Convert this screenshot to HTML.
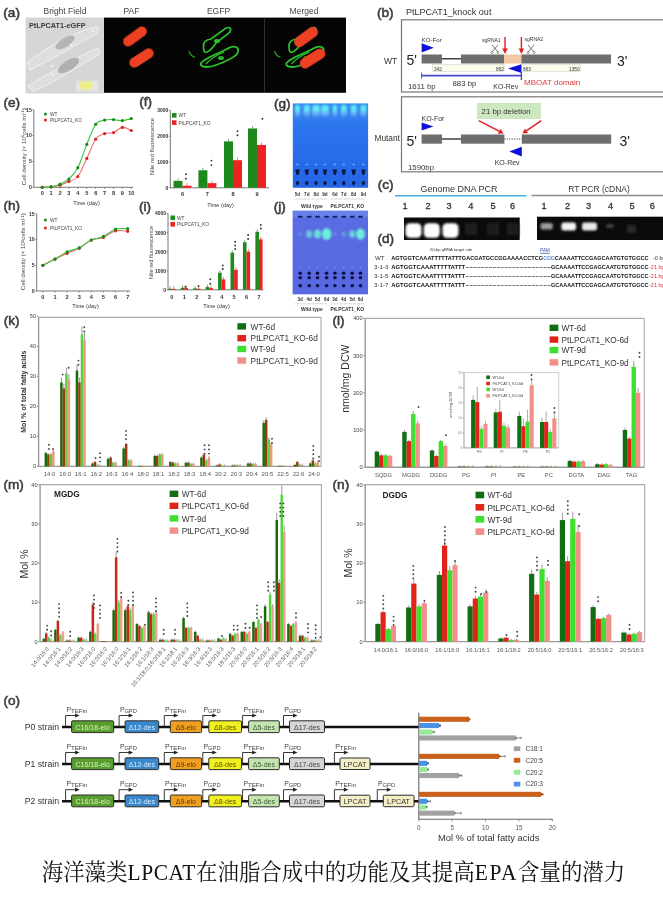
<!DOCTYPE html>
<html><head><meta charset="utf-8"><title>PtLPCAT1</title>
<style>
html,body{margin:0;padding:0;background:#fff;}
body{width:663px;height:900px;overflow:hidden;position:relative;}
svg{position:absolute;left:0;top:0;font-family:"Liberation Sans",Arial,sans-serif;}
.cap{position:absolute;left:2px;top:854.5px;transform:scaleY(1.04);transform-origin:50% 50%;width:663px;text-align:center;font-family:"Liberation Serif","Noto Serif CJK SC",serif;font-size:21.45px;color:#111;white-space:nowrap;}
</style></head><body>
<svg width="663" height="900" viewBox="0 0 663 900">
<defs><filter id="gl" x="-50%" y="-50%" width="200%" height="200%"><feGaussianBlur stdDeviation="1.2"/></filter><filter id="gl2" x="-50%" y="-50%" width="200%" height="200%"><feGaussianBlur stdDeviation="2"/></filter><filter id="gl3" x="-50%" y="-50%" width="200%" height="200%"><feGaussianBlur stdDeviation="0.6"/></filter><filter id="gl4" x="-50%" y="-50%" width="200%" height="200%"><feGaussianBlur stdDeviation="0.9"/></filter></defs>
<text x="3.3" y="17.2" font-size="13.6" fill="#3a3a3a" text-anchor="start" font-weight="normal" stroke="#3a3a3a" stroke-width="0.55">(a)</text>
<text x="65.0" y="14.0" font-size="8.5" fill="#444" text-anchor="middle" font-weight="normal" >Bright Field</text>
<text x="131.5" y="14.0" font-size="8.5" fill="#444" text-anchor="middle" font-weight="normal" >PAF</text>
<text x="218.5" y="14.0" font-size="8.5" fill="#444" text-anchor="middle" font-weight="normal" >EGFP</text>
<text x="304.0" y="14.0" font-size="8.5" fill="#444" text-anchor="middle" font-weight="normal" >Merged</text>
<rect x="25.50" y="17.50" width="78.50" height="76.00" fill="#d6d6d6" />
<g filter="url(#gl3)"><path d="M28,62 Q50,45 70,36 Q85,29 97,27 Q100,30 96,34 Q80,42 64,52 Q46,62 30,70 Z" fill="#dedede" stroke="#ececec" stroke-width="1.2"/><path d="M28,86 Q45,76 62,66 Q80,56 98,48 Q101,51 98,55 Q82,64 66,74 Q50,84 34,91 Z" fill="#dedede" stroke="#ececec" stroke-width="1.2"/><ellipse cx="65" cy="42.5" rx="11" ry="4.5" transform="rotate(-32 65 42.5)" fill="#b4b4b4"/><ellipse cx="68.5" cy="65.5" rx="12" ry="5" transform="rotate(-32 68.5 65.5)" fill="#b0b0b0"/><circle cx="71" cy="45" r="1.3" fill="#eee"/><circle cx="52" cy="66" r="1.5" fill="#eee"/><circle cx="53" cy="75" r="1.3" fill="#eee"/><circle cx="93" cy="31" r="1.2" fill="#eee"/></g>
<g filter="url(#gl4)"><rect x="76" y="81" width="22" height="10" fill="#e6e6f0"/><rect x="79" y="81.5" width="14" height="8" fill="#ecec86"/></g>
<text x="29" y="28.3" font-size="7.6" font-weight="bold" fill="#3a3a3a" textLength="56.5" lengthAdjust="spacingAndGlyphs">PtLPCAT1-eGFP</text>
<rect x="104.00" y="17.60" width="242.00" height="75.20" fill="#050505" />
<line x1="264.50" y1="17.60" x2="264.50" y2="92.80" stroke="#3a3a3a" stroke-width="0.8" />
<rect x="121.5" y="31.5" width="27" height="10" rx="5.0" fill="#ee4020" transform="rotate(-36 135 36.5)" filter="url(#gl3)"/>
<rect x="128.0" y="53.0" width="27" height="10" rx="5.0" fill="#ee4020" transform="rotate(-33 141.5 58)" filter="url(#gl3)"/>
<g transform="translate(0,0)" fill="none" stroke="#2cc02c" filter="url(#gl3)"><path d="M203.5,47 C203,41 207,39.5 211,39 L226,28 C230,26.5 232,29 229.5,32.5 L216,43 C213,47 210,52 206,52.5 C204,52.5 203.5,50 203.5,47 Z" stroke-width="1.7"/><path d="M201,63 C205,58 215,55 225,50 C231,46.5 236,45 238,49 C239,53 236,56 230,59 C222,63 213,67 207,67 C203,67 200,66 201,63 Z" stroke-width="1.8"/><path d="M206,64 C211,58 217,55 224,52" stroke-width="1.3"/><path d="M189,51 C190,55 193,57 195,57" stroke-width="1.2" stroke="#22a022"/><ellipse cx="217" cy="41" rx="3" ry="2" fill="#30c030" stroke="none"/><ellipse cx="221" cy="58" rx="3" ry="2" fill="#2cb02c" stroke="none"/></g>
<g transform="translate(85.5,0)" fill="none" stroke="#2cc02c" filter="url(#gl3)"><path d="M203.5,47 C203,41 207,39.5 211,39 L226,28 C230,26.5 232,29 229.5,32.5 L216,43 C213,47 210,52 206,52.5 C204,52.5 203.5,50 203.5,47 Z" stroke-width="1.7"/><path d="M201,63 C205,58 215,55 225,50 C231,46.5 236,45 238,49 C239,53 236,56 230,59 C222,63 213,67 207,67 C203,67 200,66 201,63 Z" stroke-width="1.8"/><path d="M206,64 C211,58 217,55 224,52" stroke-width="1.3"/><path d="M189,51 C190,55 193,57 195,57" stroke-width="1.2" stroke="#22a022"/><ellipse cx="217" cy="41" rx="3" ry="2" fill="#30c030" stroke="none"/><ellipse cx="221" cy="58" rx="3" ry="2" fill="#2cb02c" stroke="none"/></g>
<rect x="292.5" y="31.8" width="27" height="10.5" rx="5.25" fill="#ee4020" transform="rotate(-36 306 37)" filter="url(#gl3)"/>
<rect x="298.5" y="53.2" width="28" height="10.5" rx="5.25" fill="#ee4020" transform="rotate(-32 312.5 58.5)" filter="url(#gl3)"/>
<text x="377.0" y="17.0" font-size="13.6" fill="#3a3a3a" text-anchor="start" font-weight="normal" stroke="#3a3a3a" stroke-width="0.55">(b)</text>
<text x="406.0" y="15.2" font-size="9" fill="#333" text-anchor="start" font-weight="normal" >PtLPCAT1_knock out</text>
<rect x="401.5" y="19.8" width="270" height="72.2" fill="none" stroke="#777" stroke-width="1.2"/>
<text x="384.0" y="63.5" font-size="8.5" fill="#333" text-anchor="start" font-weight="normal" >WT</text>
<text x="406.5" y="65.0" font-size="14" fill="#222" text-anchor="start" font-weight="normal" >5'</text>
<text x="617.0" y="65.5" font-size="14" fill="#222" text-anchor="start" font-weight="normal" >3'</text>
<rect x="421.60" y="54.50" width="20.40" height="9.00" fill="#6e6e6e" />
<line x1="442.00" y1="58.80" x2="461.00" y2="58.80" stroke="#111" stroke-width="1.2" />
<rect x="461.00" y="54.50" width="43.00" height="9.00" fill="#6e6e6e" />
<rect x="504.00" y="54.50" width="17.40" height="9.00" fill="#f0c8a8" />
<rect x="521.40" y="54.50" width="89.60" height="9.00" fill="#6e6e6e" />
<rect x="432.5" y="64.5" width="71.5" height="7" fill="#fcfcec" stroke="#c8c8c8" stroke-width="0.5"/>
<rect x="521.4" y="64.8" width="58.6" height="7" fill="#fcfcec" stroke="#c8c8c8" stroke-width="0.5"/>
<text x="434.0" y="70.5" font-size="4.8" fill="#333" text-anchor="start" font-weight="normal" >342</text>
<text x="496.0" y="70.5" font-size="4.8" fill="#333" text-anchor="start" font-weight="normal" >862</text>
<text x="523.0" y="70.5" font-size="4.8" fill="#333" text-anchor="start" font-weight="normal" >863</text>
<text x="569.0" y="70.5" font-size="4.8" fill="#333" text-anchor="start" font-weight="normal" >1350</text>
<path d="M421.6,43.2 L433.8,47.8 L421.6,52.4 Z" fill="#1010d8"/>
<text x="421.5" y="41.5" font-size="6.2" fill="#333" text-anchor="start" font-weight="normal" >KO-For</text>
<path d="M521.4,64.3 L508,68.6 L521.4,73 Z" fill="#1010d8"/>
<text x="493.3" y="88.8" font-size="7" fill="#333" text-anchor="start" font-weight="normal" >KO-Rev</text>
<line x1="421.60" y1="75.60" x2="521.40" y2="75.60" stroke="#4848d0" stroke-width="1.8" />
<line x1="421.60" y1="72.50" x2="421.60" y2="78.50" stroke="#4848d0" stroke-width="1" />
<line x1="521.40" y1="72.00" x2="521.40" y2="80.00" stroke="#4848d0" stroke-width="1.4" />
<text x="408.0" y="89.0" font-size="7.8" fill="#333" text-anchor="start" font-weight="normal" >1611 bp</text>
<text x="452.5" y="85.8" font-size="7.8" fill="#333" text-anchor="start" font-weight="normal" >883 bp</text>
<text x="524.0" y="84.8" font-size="8" fill="#e03a3a" text-anchor="start" font-weight="normal" >MBOAT  domain</text>
<line x1="505.00" y1="37.00" x2="505.00" y2="50.00" stroke="#e02020" stroke-width="1.4" />
<path d="M502.2,48.5 L505,54 L507.8,48.5 Z" fill="#e02020"/>
<line x1="521.40" y1="37.00" x2="521.40" y2="50.00" stroke="#e02020" stroke-width="1.4" />
<path d="M518.6,48.5 L521.4,54 L524.1999999999999,48.5 Z" fill="#e02020"/>
<text x="482.0" y="42.0" font-size="5" fill="#333" text-anchor="start" font-weight="normal" >sgRNA1</text>
<text x="524.5" y="40.8" font-size="5" fill="#333" text-anchor="start" font-weight="normal" >sgRNA2</text>
<path d="M492,45 L498,52 M498,45 L492,52" stroke="#666" stroke-width="0.9" fill="none"/>
<circle cx="492" cy="52.5" r="1.1" fill="none" stroke="#666" stroke-width="0.6"/><circle cx="498" cy="52.5" r="1.1" fill="none" stroke="#666" stroke-width="0.6"/>
<path d="M528,45 L534,52 M534,45 L528,52" stroke="#666" stroke-width="0.9" fill="none"/>
<circle cx="528" cy="52.5" r="1.1" fill="none" stroke="#666" stroke-width="0.6"/><circle cx="534" cy="52.5" r="1.1" fill="none" stroke="#666" stroke-width="0.6"/>
<rect x="401.5" y="96.8" width="270" height="75" fill="none" stroke="#777" stroke-width="1.2"/>
<text x="374.5" y="140.5" font-size="8.3" fill="#333" text-anchor="start" font-weight="normal" >Mutant</text>
<text x="406.5" y="145.5" font-size="14" fill="#222" text-anchor="start" font-weight="normal" >5'</text>
<text x="619.5" y="145.5" font-size="14" fill="#222" text-anchor="start" font-weight="normal" >3'</text>
<rect x="421.60" y="134.50" width="20.40" height="9.20" fill="#6e6e6e" />
<line x1="442.00" y1="139.00" x2="461.00" y2="139.00" stroke="#111" stroke-width="1.2" />
<rect x="461.00" y="134.50" width="43.40" height="9.20" fill="#6e6e6e" />
<line x1="504.40" y1="139.00" x2="521.80" y2="139.00" stroke="#333" stroke-width="0.9" stroke-dasharray="1.2,1.2"/>
<rect x="521.80" y="134.50" width="89.40" height="9.20" fill="#6e6e6e" />
<path d="M421.6,122.6 L433.4,126.6 L421.6,130.6 Z" fill="#1010d8"/>
<text x="421.5" y="120.5" font-size="7" fill="#333" text-anchor="start" font-weight="normal" >KO-For</text>
<path d="M521.8,146.8 L509.3,151.6 L521.8,156.4 Z" fill="#1010d8"/>
<text x="494.7" y="165.0" font-size="7" fill="#333" text-anchor="start" font-weight="normal" >KO-Rev</text>
<text x="408.0" y="169.8" font-size="7.8" fill="#333" text-anchor="start" font-weight="normal" >1590bp</text>
<rect x="477.00" y="103.00" width="64.00" height="16.00" fill="#cde8c0" />
<text x="481.6" y="114.4" font-size="7.8" fill="#333" text-anchor="start" font-weight="normal" >21 bp deletion</text>
<line x1="478.70" y1="120.60" x2="499.06" y2="131.19" stroke="#e02020" stroke-width="1.5" />
<path d="M503.5,133.5 L497.8,133.7 L500.4,128.7 Z" fill="#e02020"/>
<line x1="541.30" y1="120.60" x2="526.53" y2="130.68" stroke="#e02020" stroke-width="1.5" />
<path d="M522.4,133.5 L525.0,128.4 L528.1,133.0 Z" fill="#e02020"/>
<text x="377.8" y="189.4" font-size="13.6" fill="#3a3a3a" text-anchor="start" font-weight="normal" stroke="#3a3a3a" stroke-width="0.55">(c)</text>
<text x="459.0" y="191.5" font-size="9" fill="#333" text-anchor="middle" font-weight="normal" >Genome DNA PCR</text>
<text x="599.0" y="192.0" font-size="8.5" fill="#333" text-anchor="middle" font-weight="normal" >RT PCR (cDNA)</text>
<line x1="395.00" y1="195.80" x2="526.50" y2="195.80" stroke="#40b4dc" stroke-width="1.6" />
<line x1="531.40" y1="195.50" x2="663.00" y2="195.50" stroke="#8a8a8a" stroke-width="1.4" />
<text x="405.0" y="208.9" font-size="9.2" fill="#333" text-anchor="middle" font-weight="normal" stroke="#333" stroke-width="0.3">1</text>
<text x="428.0" y="208.9" font-size="9.2" fill="#333" text-anchor="middle" font-weight="normal" stroke="#333" stroke-width="0.3">2</text>
<text x="449.0" y="208.9" font-size="9.2" fill="#333" text-anchor="middle" font-weight="normal" stroke="#333" stroke-width="0.3">3</text>
<text x="470.7" y="208.9" font-size="9.2" fill="#333" text-anchor="middle" font-weight="normal" stroke="#333" stroke-width="0.3">4</text>
<text x="493.0" y="208.9" font-size="9.2" fill="#333" text-anchor="middle" font-weight="normal" stroke="#333" stroke-width="0.3">5</text>
<text x="512.5" y="208.9" font-size="9.2" fill="#333" text-anchor="middle" font-weight="normal" stroke="#333" stroke-width="0.3">6</text>
<text x="544.0" y="209.3" font-size="9.2" fill="#333" text-anchor="middle" font-weight="normal" stroke="#333" stroke-width="0.3">1</text>
<text x="567.6" y="209.3" font-size="9.2" fill="#333" text-anchor="middle" font-weight="normal" stroke="#333" stroke-width="0.3">2</text>
<text x="588.5" y="209.3" font-size="9.2" fill="#333" text-anchor="middle" font-weight="normal" stroke="#333" stroke-width="0.3">3</text>
<text x="610.5" y="209.3" font-size="9.2" fill="#333" text-anchor="middle" font-weight="normal" stroke="#333" stroke-width="0.3">4</text>
<text x="632.0" y="209.3" font-size="9.2" fill="#333" text-anchor="middle" font-weight="normal" stroke="#333" stroke-width="0.3">5</text>
<text x="652.3" y="209.3" font-size="9.2" fill="#333" text-anchor="middle" font-weight="normal" stroke="#333" stroke-width="0.3">6</text>
<rect x="404.00" y="217.50" width="115.70" height="22.50" fill="#0b0b0b" />
<rect x="537.00" y="216.70" width="126.00" height="23.30" fill="#0b0b0b" />
<rect x="405.5" y="223.2" width="16" height="14.5" rx="4.5" fill="#ffffff" filter="url(#gl)"/>
<rect x="423.8" y="223.2" width="16" height="14.5" rx="4.5" fill="#ffffff" filter="url(#gl)"/>
<rect x="442.5" y="223.2" width="16" height="14.5" rx="4.5" fill="#ffffff" filter="url(#gl)"/>
<rect x="465" y="223" width="12" height="12" fill="#1c1c1c" filter="url(#gl)"/>
<rect x="487" y="223" width="12" height="12" fill="#1c1c1c" filter="url(#gl)"/>
<rect x="507" y="223" width="12" height="12" fill="#1c1c1c" filter="url(#gl)"/>
<rect x="540.5" y="223" width="12.3" height="6.5" rx="2" fill="#9a9a9a" filter="url(#gl)"/>
<rect x="561.4" y="222.5" width="14.6" height="8" rx="2.5" fill="#f4f4f4" filter="url(#gl)"/>
<rect x="582" y="222.5" width="15" height="8" rx="2.5" fill="#e8e8e8" filter="url(#gl)"/>
<rect x="606" y="224" width="8" height="4" rx="1.5" fill="#404040" filter="url(#gl)"/>
<rect x="627" y="225" width="9" height="8" rx="1.5" fill="#2a2a2a" filter="url(#gl)"/>
<text x="377.4" y="242.7" font-size="13.6" fill="#3a3a3a" text-anchor="start" font-weight="normal" stroke="#3a3a3a" stroke-width="0.55">(d)</text>
<text x="451.0" y="251.0" font-size="4.2" fill="#333" text-anchor="middle" font-weight="normal" >20-bp gRNA target site</text>
<text x="545.0" y="252.4" font-size="4.5" fill="#2a4aa0" text-anchor="middle" font-weight="normal" text-decoration="underline">PAM</text>
<line x1="540.00" y1="253.20" x2="550.00" y2="253.20" stroke="#2a4aa0" stroke-width="0.4" />
<text x="384.5" y="260.0" font-size="6.2" fill="#333" text-anchor="end" font-weight="normal" >WT</text>
<text x="388.5" y="268.6" font-size="6.2" fill="#333" text-anchor="end" font-weight="normal" >3-1-3</text>
<text x="388.5" y="278.1" font-size="6.2" fill="#333" text-anchor="end" font-weight="normal" >3-1-5</text>
<text x="388.5" y="287.4" font-size="6.2" fill="#333" text-anchor="end" font-weight="normal" >3-1-7</text>
<text x="391.20" y="260.00" font-size="6.2" font-weight="bold" fill="#111" textLength="151.98" lengthAdjust="spacingAndGlyphs">AGTGGTCAAATTTTTATTTGACGATGCCGGAAAACCTCG</text>
<text x="543.18" y="260.00" font-size="6.2" font-weight="bold" fill="#5a8ad8" textLength="11.69" lengthAdjust="spacingAndGlyphs">CGG</text>
<text x="554.87" y="260.00" font-size="6.2" font-weight="bold" fill="#111" textLength="93.53" lengthAdjust="spacingAndGlyphs">CAAAATTCCGAGCAATGTGTGGCC</text>
<text x="653.0" y="260.0" font-size="5.5" fill="#333" text-anchor="start" font-weight="normal" >-0 bp</text>
<text x="391.20" y="268.60" font-size="6.2" font-weight="bold" fill="#111" textLength="74.04" lengthAdjust="spacingAndGlyphs">AGTGGTCAAATTTTTATTT</text>
<text x="465.24" y="268.60" font-size="6.2" font-weight="bold" fill="#333" textLength="85.73" lengthAdjust="spacingAndGlyphs">----------------------</text>
<text x="550.98" y="268.60" font-size="6.2" font-weight="bold" fill="#111" textLength="97.42" lengthAdjust="spacingAndGlyphs">GCAAAATTCCGAGCAATGTGTGGCC</text>
<text x="649.0" y="268.6" font-size="5.5" fill="#e03030" text-anchor="start" font-weight="normal" >-21 bp</text>
<text x="391.20" y="278.10" font-size="6.2" font-weight="bold" fill="#111" textLength="74.04" lengthAdjust="spacingAndGlyphs">AGTGGTCAAATTTTTATTT</text>
<text x="465.24" y="278.10" font-size="6.2" font-weight="bold" fill="#333" textLength="85.73" lengthAdjust="spacingAndGlyphs">----------------------</text>
<text x="550.98" y="278.10" font-size="6.2" font-weight="bold" fill="#111" textLength="97.42" lengthAdjust="spacingAndGlyphs">GCAAAATTCCGAGCAATGTGTGGCC</text>
<text x="649.0" y="278.1" font-size="5.5" fill="#e03030" text-anchor="start" font-weight="normal" >-21 bp</text>
<text x="391.20" y="287.40" font-size="6.2" font-weight="bold" fill="#111" textLength="74.04" lengthAdjust="spacingAndGlyphs">AGTGGTCAAATTTTTATTT</text>
<text x="465.24" y="287.40" font-size="6.2" font-weight="bold" fill="#333" textLength="85.73" lengthAdjust="spacingAndGlyphs">----------------------</text>
<text x="550.98" y="287.40" font-size="6.2" font-weight="bold" fill="#111" textLength="97.42" lengthAdjust="spacingAndGlyphs">GCAAAATTCCGAGCAATGTGTGGCC</text>
<text x="649.0" y="287.4" font-size="5.5" fill="#e03030" text-anchor="start" font-weight="normal" >-21 bp</text>
<text x="3.4" y="106.6" font-size="13.6" fill="#3a3a3a" text-anchor="start" font-weight="normal" stroke="#3a3a3a" stroke-width="0.55">(e)</text>
<line x1="33.80" y1="109.80" x2="33.80" y2="187.30" stroke="#555" stroke-width="0.8" />
<line x1="33.80" y1="187.30" x2="133.00" y2="187.30" stroke="#555" stroke-width="0.8" />
<line x1="32.30" y1="187.30" x2="33.80" y2="187.30" stroke="#555" stroke-width="0.6" />
<text x="31.8" y="189.1" font-size="5.2" fill="#333" text-anchor="end" font-weight="bold" >0</text>
<line x1="32.30" y1="161.47" x2="33.80" y2="161.47" stroke="#555" stroke-width="0.6" />
<text x="31.8" y="163.3" font-size="5.2" fill="#333" text-anchor="end" font-weight="bold" >5</text>
<line x1="32.30" y1="135.63" x2="33.80" y2="135.63" stroke="#555" stroke-width="0.6" />
<text x="31.8" y="137.4" font-size="5.2" fill="#333" text-anchor="end" font-weight="bold" >10</text>
<line x1="32.30" y1="109.80" x2="33.80" y2="109.80" stroke="#555" stroke-width="0.6" />
<text x="31.8" y="111.6" font-size="5.2" fill="#333" text-anchor="end" font-weight="bold" >15</text>
<line x1="42.20" y1="187.30" x2="42.20" y2="188.80" stroke="#555" stroke-width="0.6" />
<text x="42.2" y="195.0" font-size="5.6" fill="#333" text-anchor="middle" font-weight="bold" >0</text>
<line x1="51.11" y1="187.30" x2="51.11" y2="188.80" stroke="#555" stroke-width="0.6" />
<text x="51.1" y="195.0" font-size="5.6" fill="#333" text-anchor="middle" font-weight="bold" >1</text>
<line x1="60.02" y1="187.30" x2="60.02" y2="188.80" stroke="#555" stroke-width="0.6" />
<text x="60.0" y="195.0" font-size="5.6" fill="#333" text-anchor="middle" font-weight="bold" >2</text>
<line x1="68.93" y1="187.30" x2="68.93" y2="188.80" stroke="#555" stroke-width="0.6" />
<text x="68.9" y="195.0" font-size="5.6" fill="#333" text-anchor="middle" font-weight="bold" >3</text>
<line x1="77.84" y1="187.30" x2="77.84" y2="188.80" stroke="#555" stroke-width="0.6" />
<text x="77.8" y="195.0" font-size="5.6" fill="#333" text-anchor="middle" font-weight="bold" >4</text>
<line x1="86.75" y1="187.30" x2="86.75" y2="188.80" stroke="#555" stroke-width="0.6" />
<text x="86.8" y="195.0" font-size="5.6" fill="#333" text-anchor="middle" font-weight="bold" >5</text>
<line x1="95.66" y1="187.30" x2="95.66" y2="188.80" stroke="#555" stroke-width="0.6" />
<text x="95.7" y="195.0" font-size="5.6" fill="#333" text-anchor="middle" font-weight="bold" >6</text>
<line x1="104.57" y1="187.30" x2="104.57" y2="188.80" stroke="#555" stroke-width="0.6" />
<text x="104.6" y="195.0" font-size="5.6" fill="#333" text-anchor="middle" font-weight="bold" >7</text>
<line x1="113.48" y1="187.30" x2="113.48" y2="188.80" stroke="#555" stroke-width="0.6" />
<text x="113.5" y="195.0" font-size="5.6" fill="#333" text-anchor="middle" font-weight="bold" >8</text>
<line x1="122.39" y1="187.30" x2="122.39" y2="188.80" stroke="#555" stroke-width="0.6" />
<text x="122.4" y="195.0" font-size="5.6" fill="#333" text-anchor="middle" font-weight="bold" >9</text>
<line x1="131.30" y1="187.30" x2="131.30" y2="188.80" stroke="#555" stroke-width="0.6" />
<text x="131.3" y="195.0" font-size="5.6" fill="#333" text-anchor="middle" font-weight="bold" >10</text>
<path d="M42.2,187.3 C43.7,187.2 48.1,187.1 51.1,186.8 C54.1,186.4 57.1,186.1 60.0,185.2 C63.0,184.4 66.0,183.1 68.9,181.6 C71.9,180.2 74.9,180.3 77.8,176.5 C80.8,172.6 83.8,164.6 86.8,158.4 C89.7,152.2 92.7,143.4 95.7,139.2 C98.6,135.1 101.6,134.7 104.6,133.6 C107.5,132.4 110.5,133.6 113.5,132.5 C116.5,131.5 119.4,127.7 122.4,127.4 C125.4,127.0 129.8,129.9 131.3,130.5" fill="none" stroke="#f07070" stroke-width="1.1"/>
<circle cx="42.2" cy="187.3" r="1.6" fill="#e02020"/>
<circle cx="51.1" cy="186.8" r="1.6" fill="#e02020"/>
<circle cx="60.0" cy="185.2" r="1.6" fill="#e02020"/>
<circle cx="68.9" cy="181.6" r="1.6" fill="#e02020"/>
<circle cx="77.8" cy="176.5" r="1.6" fill="#e02020"/>
<circle cx="86.8" cy="158.4" r="1.6" fill="#e02020"/>
<circle cx="95.7" cy="139.2" r="1.6" fill="#e02020"/>
<circle cx="104.6" cy="133.6" r="1.6" fill="#e02020"/>
<circle cx="113.5" cy="132.5" r="1.6" fill="#e02020"/>
<circle cx="122.4" cy="127.4" r="1.6" fill="#e02020"/>
<circle cx="131.3" cy="130.5" r="1.6" fill="#e02020"/>
<path d="M42.2,187.3 C43.7,187.2 48.1,187.3 51.1,186.8 C54.1,186.3 57.1,185.5 60.0,184.2 C63.0,182.9 66.0,181.8 68.9,179.0 C71.9,176.3 74.9,173.4 77.8,167.7 C80.8,161.9 83.8,151.6 86.8,144.4 C89.7,137.2 92.7,128.3 95.7,124.3 C98.6,120.2 101.6,120.9 104.6,120.1 C107.5,119.4 110.5,119.5 113.5,119.6 C116.5,119.7 119.4,120.8 122.4,120.6 C125.4,120.5 129.8,118.9 131.3,118.6" fill="none" stroke="#40c040" stroke-width="1.1"/>
<circle cx="42.2" cy="187.3" r="1.6" fill="#1a8a1a"/>
<circle cx="51.1" cy="186.8" r="1.6" fill="#1a8a1a"/>
<circle cx="60.0" cy="184.2" r="1.6" fill="#1a8a1a"/>
<circle cx="68.9" cy="179.0" r="1.6" fill="#1a8a1a"/>
<circle cx="77.8" cy="167.7" r="1.6" fill="#1a8a1a"/>
<circle cx="86.8" cy="144.4" r="1.6" fill="#1a8a1a"/>
<circle cx="95.7" cy="124.3" r="1.6" fill="#1a8a1a"/>
<circle cx="104.6" cy="120.1" r="1.6" fill="#1a8a1a"/>
<circle cx="113.5" cy="119.6" r="1.6" fill="#1a8a1a"/>
<circle cx="122.4" cy="120.6" r="1.6" fill="#1a8a1a"/>
<circle cx="131.3" cy="118.6" r="1.6" fill="#1a8a1a"/>
<text x="86.5" y="204.5" font-size="5.6" fill="#333" text-anchor="middle" font-weight="normal" >Time (day)</text>
<text transform="translate(25.8,146.7) rotate(-90)" font-size="6.2" fill="#444" text-anchor="middle">Cell density (× 10<tspan dy="-1.8" font-size="4.3">6</tspan><tspan dy="1.8">cells ml</tspan><tspan dy="-1.8" font-size="4.3">-1</tspan><tspan dy="1.8">)</tspan></text>
<circle cx="45.4" cy="114" r="1.5" fill="#1a8a1a"/><circle cx="45.4" cy="120" r="1.5" fill="#e02020"/>
<text x="50.0" y="115.8" font-size="4.8" fill="#444" text-anchor="start" font-weight="normal" >WT</text>
<text x="50.0" y="121.8" font-size="4.8" fill="#444" text-anchor="start" font-weight="normal" >PtLPCAT1_KO</text>
<text x="3.5" y="209.8" font-size="13.6" fill="#3a3a3a" text-anchor="start" font-weight="normal" stroke="#3a3a3a" stroke-width="0.55">(h)</text>
<line x1="36.70" y1="213.80" x2="36.70" y2="291.00" stroke="#555" stroke-width="0.8" />
<line x1="36.70" y1="291.00" x2="130.00" y2="291.00" stroke="#555" stroke-width="0.8" />
<line x1="35.20" y1="291.00" x2="36.70" y2="291.00" stroke="#555" stroke-width="0.6" />
<text x="34.7" y="292.8" font-size="5.2" fill="#333" text-anchor="end" font-weight="bold" >0</text>
<line x1="35.20" y1="265.27" x2="36.70" y2="265.27" stroke="#555" stroke-width="0.6" />
<text x="34.7" y="267.1" font-size="5.2" fill="#333" text-anchor="end" font-weight="bold" >5</text>
<line x1="35.20" y1="239.53" x2="36.70" y2="239.53" stroke="#555" stroke-width="0.6" />
<text x="34.7" y="241.3" font-size="5.2" fill="#333" text-anchor="end" font-weight="bold" >10</text>
<line x1="35.20" y1="213.80" x2="36.70" y2="213.80" stroke="#555" stroke-width="0.6" />
<text x="34.7" y="215.6" font-size="5.2" fill="#333" text-anchor="end" font-weight="bold" >15</text>
<line x1="42.90" y1="291.00" x2="42.90" y2="292.50" stroke="#555" stroke-width="0.6" />
<text x="42.9" y="298.5" font-size="5.6" fill="#333" text-anchor="middle" font-weight="bold" >0</text>
<line x1="55.01" y1="291.00" x2="55.01" y2="292.50" stroke="#555" stroke-width="0.6" />
<text x="55.0" y="298.5" font-size="5.6" fill="#333" text-anchor="middle" font-weight="bold" >1</text>
<line x1="67.12" y1="291.00" x2="67.12" y2="292.50" stroke="#555" stroke-width="0.6" />
<text x="67.1" y="298.5" font-size="5.6" fill="#333" text-anchor="middle" font-weight="bold" >2</text>
<line x1="79.23" y1="291.00" x2="79.23" y2="292.50" stroke="#555" stroke-width="0.6" />
<text x="79.2" y="298.5" font-size="5.6" fill="#333" text-anchor="middle" font-weight="bold" >3</text>
<line x1="91.34" y1="291.00" x2="91.34" y2="292.50" stroke="#555" stroke-width="0.6" />
<text x="91.3" y="298.5" font-size="5.6" fill="#333" text-anchor="middle" font-weight="bold" >4</text>
<line x1="103.45" y1="291.00" x2="103.45" y2="292.50" stroke="#555" stroke-width="0.6" />
<text x="103.4" y="298.5" font-size="5.6" fill="#333" text-anchor="middle" font-weight="bold" >5</text>
<line x1="115.56" y1="291.00" x2="115.56" y2="292.50" stroke="#555" stroke-width="0.6" />
<text x="115.6" y="298.5" font-size="5.6" fill="#333" text-anchor="middle" font-weight="bold" >6</text>
<line x1="127.67" y1="291.00" x2="127.67" y2="292.50" stroke="#555" stroke-width="0.6" />
<text x="127.7" y="298.5" font-size="5.6" fill="#333" text-anchor="middle" font-weight="bold" >7</text>
<path d="M42.9,265.3 C44.9,264.2 51.0,261.1 55.0,259.1 C59.0,257.1 63.1,255.2 67.1,253.4 C71.2,251.6 75.2,250.5 79.2,248.3 C83.3,246.1 87.3,241.8 91.3,240.0 C95.4,238.2 99.4,239.0 103.4,237.5 C107.5,235.9 111.5,231.8 115.6,230.8 C119.6,229.8 125.7,231.2 127.7,231.3" fill="none" stroke="#f07070" stroke-width="1.1"/>
<circle cx="42.9" cy="265.3" r="1.6" fill="#e02020"/>
<circle cx="55.0" cy="259.1" r="1.6" fill="#e02020"/>
<circle cx="67.1" cy="253.4" r="1.6" fill="#e02020"/>
<circle cx="79.2" cy="248.3" r="1.6" fill="#e02020"/>
<circle cx="91.3" cy="240.0" r="1.6" fill="#e02020"/>
<circle cx="103.4" cy="237.5" r="1.6" fill="#e02020"/>
<circle cx="115.6" cy="230.8" r="1.6" fill="#e02020"/>
<circle cx="127.7" cy="231.3" r="1.6" fill="#e02020"/>
<path d="M42.9,265.3 C44.9,264.2 51.0,261.3 55.0,259.1 C59.0,256.9 63.1,253.8 67.1,251.9 C71.2,250.0 75.2,249.7 79.2,247.8 C83.3,245.8 87.3,241.9 91.3,240.0 C95.4,238.2 99.4,238.2 103.4,236.4 C107.5,234.6 111.5,230.5 115.6,229.2 C119.6,228.0 125.7,228.8 127.7,228.7" fill="none" stroke="#40c040" stroke-width="1.1"/>
<circle cx="42.9" cy="265.3" r="1.6" fill="#1a8a1a"/>
<circle cx="55.0" cy="259.1" r="1.6" fill="#1a8a1a"/>
<circle cx="67.1" cy="251.9" r="1.6" fill="#1a8a1a"/>
<circle cx="79.2" cy="247.8" r="1.6" fill="#1a8a1a"/>
<circle cx="91.3" cy="240.0" r="1.6" fill="#1a8a1a"/>
<circle cx="103.4" cy="236.4" r="1.6" fill="#1a8a1a"/>
<circle cx="115.6" cy="229.2" r="1.6" fill="#1a8a1a"/>
<circle cx="127.7" cy="228.7" r="1.6" fill="#1a8a1a"/>
<text transform="translate(25.3,251.7) rotate(-90)" font-size="6.2" fill="#444" text-anchor="middle">Cell density (× 10<tspan dy="-1.8" font-size="4.3">6</tspan><tspan dy="1.8">cells ml</tspan><tspan dy="-1.8" font-size="4.3">-1</tspan><tspan dy="1.8">)</tspan></text>
<circle cx="45.4" cy="220" r="1.5" fill="#1a8a1a"/><circle cx="45.4" cy="228" r="1.5" fill="#e02020"/>
<text x="50.0" y="221.8" font-size="4.8" fill="#444" text-anchor="start" font-weight="normal" >WT</text>
<text x="50.0" y="229.8" font-size="4.8" fill="#444" text-anchor="start" font-weight="normal" >PtLPCAT1_KO</text>
<text x="85.5" y="308.3" font-size="5.6" fill="#333" text-anchor="middle" font-weight="normal" >Time (day)</text>
<text x="139.3" y="106.4" font-size="13.6" fill="#3a3a3a" text-anchor="start" font-weight="normal" stroke="#3a3a3a" stroke-width="0.55">(f)</text>
<line x1="170.30" y1="110.40" x2="170.30" y2="187.80" stroke="#555" stroke-width="0.8" />
<line x1="170.30" y1="187.80" x2="269.00" y2="187.80" stroke="#555" stroke-width="0.8" />
<line x1="168.80" y1="187.80" x2="170.30" y2="187.80" stroke="#555" stroke-width="0.6" />
<text x="168.3" y="189.6" font-size="5" fill="#333" text-anchor="end" font-weight="bold" >0</text>
<line x1="168.80" y1="162.00" x2="170.30" y2="162.00" stroke="#555" stroke-width="0.6" />
<text x="168.3" y="163.8" font-size="5" fill="#333" text-anchor="end" font-weight="bold" >1000</text>
<line x1="168.80" y1="136.20" x2="170.30" y2="136.20" stroke="#555" stroke-width="0.6" />
<text x="168.3" y="138.0" font-size="5" fill="#333" text-anchor="end" font-weight="bold" >2000</text>
<line x1="168.80" y1="110.40" x2="170.30" y2="110.40" stroke="#555" stroke-width="0.6" />
<text x="168.3" y="112.2" font-size="5" fill="#333" text-anchor="end" font-weight="bold" >3000</text>
<rect x="173.50" y="180.83" width="9.00" height="6.97" fill="#1e8a1e" />
<rect x="182.50" y="185.74" width="9.00" height="2.06" fill="#ee2222" />
<line x1="178.00" y1="180.83" x2="178.00" y2="178.33" stroke="#1e8a1e" stroke-width="0.6" />
<line x1="187.00" y1="185.74" x2="187.00" y2="183.24" stroke="#ee2222" stroke-width="0.6" />
<text x="182.5" y="195.5" font-size="5.6" fill="#333" text-anchor="middle" font-weight="bold" >6</text>
<rect x="198.40" y="170.26" width="9.00" height="17.54" fill="#1e8a1e" />
<rect x="207.40" y="183.16" width="9.00" height="4.64" fill="#ee2222" />
<line x1="202.90" y1="170.26" x2="202.90" y2="167.76" stroke="#1e8a1e" stroke-width="0.6" />
<line x1="211.90" y1="183.16" x2="211.90" y2="180.66" stroke="#ee2222" stroke-width="0.6" />
<text x="207.4" y="195.5" font-size="5.6" fill="#333" text-anchor="middle" font-weight="bold" >7</text>
<rect x="224.00" y="141.36" width="9.00" height="46.44" fill="#1e8a1e" />
<rect x="233.00" y="160.19" width="9.00" height="27.61" fill="#ee2222" />
<line x1="228.50" y1="141.36" x2="228.50" y2="138.86" stroke="#1e8a1e" stroke-width="0.6" />
<line x1="237.50" y1="160.19" x2="237.50" y2="157.69" stroke="#ee2222" stroke-width="0.6" />
<text x="233.0" y="195.5" font-size="5.6" fill="#333" text-anchor="middle" font-weight="bold" >8</text>
<rect x="248.00" y="128.46" width="9.00" height="59.34" fill="#1e8a1e" />
<rect x="257.00" y="144.97" width="9.00" height="42.83" fill="#ee2222" />
<line x1="252.50" y1="128.46" x2="252.50" y2="125.96" stroke="#1e8a1e" stroke-width="0.6" />
<line x1="261.50" y1="144.97" x2="261.50" y2="142.47" stroke="#ee2222" stroke-width="0.6" />
<text x="257.0" y="195.5" font-size="5.6" fill="#333" text-anchor="middle" font-weight="bold" >9</text>
<text x="220.5" y="206.5" font-size="5.6" fill="#333" text-anchor="middle" font-weight="normal" >Time (day)</text>
<text transform="translate(153.6,146.5) rotate(-90)" font-size="6.1" fill="#444" text-anchor="middle">Nile red fluorescence</text>
<rect x="172.00" y="113.00" width="4.50" height="4.60" fill="#1e8a1e" />
<rect x="172.00" y="120.30" width="4.50" height="4.60" fill="#ee2222" />
<text x="178.6" y="117.3" font-size="4.8" fill="#444" text-anchor="start" font-weight="normal" >WT</text>
<text x="178.6" y="124.6" font-size="4.8" fill="#444" text-anchor="start" font-weight="normal" >PtLPCAT1_KO</text>
<circle cx="186.0" cy="178.7" r="0.95" fill="#333"/>
<circle cx="186.0" cy="174.2" r="0.95" fill="#333"/>
<circle cx="211.4" cy="165.1" r="0.95" fill="#333"/>
<circle cx="211.4" cy="160.6" r="0.95" fill="#333"/>
<circle cx="237.5" cy="135.3" r="0.95" fill="#333"/>
<circle cx="237.5" cy="131.2" r="0.95" fill="#333"/>
<circle cx="262.4" cy="118.8" r="0.95" fill="#333"/>
<text x="139.0" y="210.7" font-size="13.6" fill="#3a3a3a" text-anchor="start" font-weight="normal" stroke="#3a3a3a" stroke-width="0.55">(i)</text>
<line x1="168.00" y1="213.60" x2="168.00" y2="289.80" stroke="#555" stroke-width="0.8" />
<line x1="168.00" y1="289.80" x2="263.50" y2="289.80" stroke="#555" stroke-width="0.8" />
<line x1="166.50" y1="289.80" x2="168.00" y2="289.80" stroke="#555" stroke-width="0.6" />
<text x="166.0" y="291.6" font-size="5" fill="#333" text-anchor="end" font-weight="bold" >0</text>
<line x1="166.50" y1="270.75" x2="168.00" y2="270.75" stroke="#555" stroke-width="0.6" />
<text x="166.0" y="272.6" font-size="5" fill="#333" text-anchor="end" font-weight="bold" >1000</text>
<line x1="166.50" y1="251.70" x2="168.00" y2="251.70" stroke="#555" stroke-width="0.6" />
<text x="166.0" y="253.5" font-size="5" fill="#333" text-anchor="end" font-weight="bold" >2000</text>
<line x1="166.50" y1="232.65" x2="168.00" y2="232.65" stroke="#555" stroke-width="0.6" />
<text x="166.0" y="234.5" font-size="5" fill="#333" text-anchor="end" font-weight="bold" >3000</text>
<line x1="166.50" y1="213.60" x2="168.00" y2="213.60" stroke="#555" stroke-width="0.6" />
<text x="166.0" y="215.4" font-size="5" fill="#333" text-anchor="end" font-weight="bold" >4000</text>
<rect x="168.30" y="288.66" width="3.60" height="1.14" fill="#1e8a1e" />
<rect x="171.90" y="288.85" width="3.60" height="0.95" fill="#ee2222" />
<line x1="170.10" y1="288.66" x2="170.10" y2="286.16" stroke="#1e8a1e" stroke-width="0.6" />
<line x1="173.70" y1="288.85" x2="173.70" y2="286.35" stroke="#ee2222" stroke-width="0.6" />
<text x="171.9" y="298.5" font-size="5.6" fill="#333" text-anchor="middle" font-weight="bold" >0</text>
<rect x="180.74" y="287.70" width="3.60" height="2.10" fill="#1e8a1e" />
<rect x="184.34" y="287.90" width="3.60" height="1.91" fill="#ee2222" />
<line x1="182.54" y1="287.70" x2="182.54" y2="285.20" stroke="#1e8a1e" stroke-width="0.6" />
<line x1="186.14" y1="287.90" x2="186.14" y2="285.40" stroke="#ee2222" stroke-width="0.6" />
<text x="184.3" y="298.5" font-size="5.6" fill="#333" text-anchor="middle" font-weight="bold" >1</text>
<rect x="193.18" y="288.28" width="3.60" height="1.52" fill="#1e8a1e" />
<rect x="196.78" y="288.66" width="3.60" height="1.14" fill="#ee2222" />
<line x1="194.98" y1="288.28" x2="194.98" y2="285.78" stroke="#1e8a1e" stroke-width="0.6" />
<line x1="198.58" y1="288.66" x2="198.58" y2="286.16" stroke="#ee2222" stroke-width="0.6" />
<text x="196.8" y="298.5" font-size="5.6" fill="#333" text-anchor="middle" font-weight="bold" >2</text>
<rect x="205.62" y="286.94" width="3.60" height="2.86" fill="#1e8a1e" />
<rect x="209.22" y="287.90" width="3.60" height="1.91" fill="#ee2222" />
<line x1="207.42" y1="286.94" x2="207.42" y2="284.44" stroke="#1e8a1e" stroke-width="0.6" />
<line x1="211.02" y1="287.90" x2="211.02" y2="285.40" stroke="#ee2222" stroke-width="0.6" />
<text x="209.2" y="298.5" font-size="5.6" fill="#333" text-anchor="middle" font-weight="bold" >3</text>
<rect x="218.06" y="272.66" width="3.60" height="17.15" fill="#1e8a1e" />
<rect x="221.66" y="279.32" width="3.60" height="10.48" fill="#ee2222" />
<line x1="219.86" y1="272.66" x2="219.86" y2="270.16" stroke="#1e8a1e" stroke-width="0.6" />
<line x1="223.46" y1="279.32" x2="223.46" y2="276.82" stroke="#ee2222" stroke-width="0.6" />
<text x="221.7" y="298.5" font-size="5.6" fill="#333" text-anchor="middle" font-weight="bold" >4</text>
<rect x="230.50" y="252.65" width="3.60" height="37.15" fill="#1e8a1e" />
<rect x="234.10" y="269.80" width="3.60" height="20.00" fill="#ee2222" />
<line x1="232.30" y1="252.65" x2="232.30" y2="250.15" stroke="#1e8a1e" stroke-width="0.6" />
<line x1="235.90" y1="269.80" x2="235.90" y2="267.30" stroke="#ee2222" stroke-width="0.6" />
<text x="234.1" y="298.5" font-size="5.6" fill="#333" text-anchor="middle" font-weight="bold" >5</text>
<rect x="242.94" y="242.18" width="3.60" height="47.63" fill="#1e8a1e" />
<rect x="246.54" y="251.70" width="3.60" height="38.10" fill="#ee2222" />
<line x1="244.74" y1="242.18" x2="244.74" y2="239.68" stroke="#1e8a1e" stroke-width="0.6" />
<line x1="248.34" y1="251.70" x2="248.34" y2="249.20" stroke="#ee2222" stroke-width="0.6" />
<text x="246.5" y="298.5" font-size="5.6" fill="#333" text-anchor="middle" font-weight="bold" >6</text>
<rect x="255.38" y="231.70" width="3.60" height="58.10" fill="#1e8a1e" />
<rect x="258.98" y="239.32" width="3.60" height="50.48" fill="#ee2222" />
<line x1="257.18" y1="231.70" x2="257.18" y2="229.20" stroke="#1e8a1e" stroke-width="0.6" />
<line x1="260.78" y1="239.32" x2="260.78" y2="236.82" stroke="#ee2222" stroke-width="0.6" />
<text x="259.0" y="298.5" font-size="5.6" fill="#333" text-anchor="middle" font-weight="bold" >7</text>
<text x="216.5" y="308.0" font-size="5.6" fill="#333" text-anchor="middle" font-weight="normal" >Time (day)</text>
<text transform="translate(152.5,252.5) rotate(-90)" font-size="5.7" fill="#444" text-anchor="middle">Nile red fluorescence</text>
<rect x="170.50" y="215.50" width="4.50" height="4.60" fill="#1e8a1e" />
<rect x="170.50" y="222.00" width="4.50" height="4.60" fill="#ee2222" />
<text x="177.0" y="219.6" font-size="4.8" fill="#444" text-anchor="start" font-weight="normal" >WT</text>
<text x="177.0" y="226.3" font-size="4.8" fill="#444" text-anchor="start" font-weight="normal" >PtLPCAT1_KO</text>
<circle cx="185.4" cy="286.7" r="0.95" fill="#333"/>
<circle cx="198.5" cy="286.0" r="0.95" fill="#333"/>
<circle cx="210.3" cy="283.7" r="0.95" fill="#333"/>
<circle cx="210.3" cy="279.2" r="0.95" fill="#333"/>
<circle cx="222.8" cy="269.0" r="0.95" fill="#333"/>
<circle cx="222.8" cy="265.4" r="0.95" fill="#333"/>
<circle cx="235.2" cy="249.0" r="0.95" fill="#333"/>
<circle cx="235.2" cy="245.4" r="0.95" fill="#333"/>
<circle cx="235.2" cy="241.8" r="0.95" fill="#333"/>
<circle cx="248.1" cy="239.0" r="0.95" fill="#333"/>
<circle cx="248.1" cy="235.0" r="0.95" fill="#333"/>
<circle cx="260.8" cy="228.5" r="0.95" fill="#333"/>
<circle cx="260.8" cy="224.9" r="0.95" fill="#333"/>
<text x="274.0" y="107.6" font-size="13.6" fill="#3a3a3a" text-anchor="start" font-weight="normal" stroke="#3a3a3a" stroke-width="0.55">(g)</text>
<defs><linearGradient id="gg" x1="0" y1="0" x2="0" y2="1"><stop offset="0" stop-color="#3a8cf2"/><stop offset="0.25" stop-color="#2c76ee"/><stop offset="1" stop-color="#2464e6"/></linearGradient><linearGradient id="lane" x1="0" y1="0" x2="0" y2="1"><stop offset="0" stop-color="#58eef2"/><stop offset="0.4" stop-color="#64e4f4"/><stop offset="0.7" stop-color="#8cc4fa" stop-opacity="0.6"/><stop offset="1" stop-color="#6aa8f6" stop-opacity="0"/></linearGradient><linearGradient id="gj" x1="0" y1="0" x2="0" y2="1"><stop offset="0" stop-color="#6a80ea"/><stop offset="0.06" stop-color="#6a80ea"/><stop offset="0.1" stop-color="#5a6ce2"/><stop offset="1" stop-color="#5868e0"/></linearGradient></defs>
<rect x="292.80" y="103.40" width="75.30" height="84.40" fill="url(#gg)" />
<rect x="295.0" y="104.8" width="5" height="13.5" rx="2.5" fill="url(#lane)" filter="url(#gl4)"/>
<ellipse cx="297.5" cy="164.5" rx="1.5" ry="1" fill="#5aa0f4" filter="url(#gl3)"/>
<path d="M295.3,169.5 L299.7,169.5 L299.0,173 L298.3,175 L296.7,175 L296.0,173 Z" fill="#0a1440" filter="url(#gl3)"/>
<ellipse cx="297.5" cy="183.2" rx="1.6" ry="2.1" fill="#0a1440" filter="url(#gl3)"/>
<rect x="303.8" y="104.8" width="6" height="13.5" rx="3.0" fill="url(#lane)" filter="url(#gl4)"/>
<ellipse cx="306.8" cy="164.5" rx="1.5" ry="1" fill="#5aa0f4" filter="url(#gl3)"/>
<path d="M304.6,169.5 L309.0,169.5 L308.3,173 L307.6,175 L306.0,175 L305.3,173 Z" fill="#0a1440" filter="url(#gl3)"/>
<ellipse cx="306.8" cy="183.2" rx="1.6" ry="2.1" fill="#0a1440" filter="url(#gl3)"/>
<rect x="312.1" y="104.8" width="8" height="13.5" rx="4.0" fill="url(#lane)" filter="url(#gl4)"/>
<ellipse cx="316.1" cy="164.5" rx="1.5" ry="1" fill="#5aa0f4" filter="url(#gl3)"/>
<path d="M313.90000000000003,169.5 L318.3,169.5 L317.6,173 L316.90000000000003,175 L315.3,175 L314.6,173 Z" fill="#0a1440" filter="url(#gl3)"/>
<ellipse cx="316.1" cy="183.2" rx="1.6" ry="2.1" fill="#0a1440" filter="url(#gl3)"/>
<rect x="321.0" y="104.8" width="8" height="13.5" rx="4.0" fill="url(#lane)" filter="url(#gl4)"/>
<ellipse cx="325" cy="164.5" rx="1.5" ry="1" fill="#5aa0f4" filter="url(#gl3)"/>
<path d="M322.8,169.5 L327.2,169.5 L326.5,173 L325.8,175 L324.2,175 L323.5,173 Z" fill="#0a1440" filter="url(#gl3)"/>
<ellipse cx="325" cy="183.2" rx="1.6" ry="2.1" fill="#0a1440" filter="url(#gl3)"/>
<rect x="332.6" y="104.8" width="4.5" height="13.5" rx="2.2" fill="url(#lane)" filter="url(#gl4)"/>
<ellipse cx="334.9" cy="164.5" rx="1.5" ry="1" fill="#5aa0f4" filter="url(#gl3)"/>
<path d="M332.7,169.5 L337.09999999999997,169.5 L336.4,173 L335.7,175 L334.09999999999997,175 L333.4,173 Z" fill="#0a1440" filter="url(#gl3)"/>
<ellipse cx="334.9" cy="183.2" rx="1.6" ry="2.1" fill="#0a1440" filter="url(#gl3)"/>
<rect x="340.8" y="104.8" width="6" height="13.5" rx="3.0" fill="url(#lane)" filter="url(#gl4)"/>
<ellipse cx="343.8" cy="164.5" rx="1.5" ry="1" fill="#5aa0f4" filter="url(#gl3)"/>
<path d="M341.6,169.5 L346.0,169.5 L345.3,173 L344.6,175 L343.0,175 L342.3,173 Z" fill="#0a1440" filter="url(#gl3)"/>
<ellipse cx="343.8" cy="183.2" rx="1.6" ry="2.1" fill="#0a1440" filter="url(#gl3)"/>
<rect x="350.7" y="104.8" width="6" height="13.5" rx="3.0" fill="url(#lane)" filter="url(#gl4)"/>
<ellipse cx="353.7" cy="164.5" rx="1.5" ry="1" fill="#5aa0f4" filter="url(#gl3)"/>
<path d="M351.5,169.5 L355.9,169.5 L355.2,173 L354.5,175 L352.9,175 L352.2,173 Z" fill="#0a1440" filter="url(#gl3)"/>
<ellipse cx="353.7" cy="183.2" rx="1.6" ry="2.1" fill="#0a1440" filter="url(#gl3)"/>
<rect x="360.4" y="104.8" width="6" height="13.5" rx="3.0" fill="url(#lane)" filter="url(#gl4)"/>
<ellipse cx="363.4" cy="164.5" rx="1.5" ry="1" fill="#5aa0f4" filter="url(#gl3)"/>
<path d="M361.2,169.5 L365.59999999999997,169.5 L364.9,173 L364.2,175 L362.59999999999997,175 L361.9,173 Z" fill="#0a1440" filter="url(#gl3)"/>
<ellipse cx="363.4" cy="183.2" rx="1.6" ry="2.1" fill="#0a1440" filter="url(#gl3)"/>
<text x="297.5" y="196.3" font-size="4.6" fill="#333" text-anchor="middle" font-weight="bold" >5d</text>
<text x="306.8" y="196.3" font-size="4.6" fill="#333" text-anchor="middle" font-weight="bold" >7d</text>
<text x="316.1" y="196.3" font-size="4.6" fill="#333" text-anchor="middle" font-weight="bold" >8d</text>
<text x="325.0" y="196.3" font-size="4.6" fill="#333" text-anchor="middle" font-weight="bold" >9d</text>
<text x="334.9" y="196.3" font-size="4.6" fill="#333" text-anchor="middle" font-weight="bold" >6d</text>
<text x="343.8" y="196.3" font-size="4.6" fill="#333" text-anchor="middle" font-weight="bold" >7d</text>
<text x="353.7" y="196.3" font-size="4.6" fill="#333" text-anchor="middle" font-weight="bold" >8d</text>
<text x="363.4" y="196.3" font-size="4.6" fill="#333" text-anchor="middle" font-weight="bold" >9d</text>
<line x1="295.00" y1="199.00" x2="327.00" y2="199.00" stroke="#888" stroke-width="0.5" stroke-dasharray="0.8,0.5"/>
<line x1="331.00" y1="199.00" x2="365.00" y2="199.00" stroke="#888" stroke-width="0.5" stroke-dasharray="0.8,0.5"/>
<text x="311.8" y="207.8" font-size="4.9" fill="#333" text-anchor="middle" font-weight="bold" >Wild type</text>
<text x="347.2" y="207.8" font-size="4.9" fill="#333" text-anchor="middle" font-weight="bold" >PtLPCAT1_KO</text>
<text x="273.8" y="210.7" font-size="13.6" fill="#3a3a3a" text-anchor="start" font-weight="normal" stroke="#3a3a3a" stroke-width="0.55">(j)</text>
<rect x="292.60" y="210.60" width="75.40" height="83.70" fill="url(#gj)" />
<rect x="297.9" y="215.8" width="4.6" height="1.9" fill="#142060" filter="url(#gl3)"/>
<ellipse cx="300.2" cy="234" rx="1.5" ry="1.875" fill="#6af0d8" opacity="0.4" filter="url(#gl)"/>
<ellipse cx="300.2" cy="267.5" rx="0.9" ry="0.7" fill="#7a8af0"/>
<ellipse cx="300.2" cy="273.2" rx="1.8" ry="1.6" fill="#0a1040" filter="url(#gl3)"/>
<ellipse cx="300.2" cy="277.7" rx="1.8" ry="1.6" fill="#0a1040" filter="url(#gl3)"/>
<ellipse cx="300.2" cy="285.7" rx="1.8" ry="1.6" fill="#0a1040" filter="url(#gl3)"/>
<rect x="306.9" y="215.8" width="4.6" height="1.9" fill="#142060" filter="url(#gl3)"/>
<ellipse cx="309.2" cy="234" rx="3" ry="3.75" fill="#6af0d8" opacity="0.75" filter="url(#gl)"/>
<ellipse cx="309.2" cy="267.5" rx="0.9" ry="0.7" fill="#7a8af0"/>
<ellipse cx="309.2" cy="273.2" rx="1.8" ry="1.6" fill="#0a1040" filter="url(#gl3)"/>
<ellipse cx="309.2" cy="277.7" rx="1.8" ry="1.6" fill="#0a1040" filter="url(#gl3)"/>
<ellipse cx="309.2" cy="285.7" rx="1.8" ry="1.6" fill="#0a1040" filter="url(#gl3)"/>
<rect x="315.2" y="215.8" width="4.6" height="1.9" fill="#142060" filter="url(#gl3)"/>
<ellipse cx="317.5" cy="234" rx="3.8" ry="4.75" fill="#6af0d8" opacity="0.85" filter="url(#gl)"/>
<ellipse cx="317.5" cy="267.5" rx="0.9" ry="0.7" fill="#7a8af0"/>
<ellipse cx="317.5" cy="273.2" rx="1.8" ry="1.6" fill="#0a1040" filter="url(#gl3)"/>
<ellipse cx="317.5" cy="277.7" rx="1.8" ry="1.6" fill="#0a1040" filter="url(#gl3)"/>
<ellipse cx="317.5" cy="285.7" rx="1.8" ry="1.6" fill="#0a1040" filter="url(#gl3)"/>
<rect x="324.3" y="215.8" width="4.6" height="1.9" fill="#142060" filter="url(#gl3)"/>
<ellipse cx="326.6" cy="234" rx="4.8" ry="6.0" fill="#6af0d8" opacity="1" filter="url(#gl)"/>
<ellipse cx="326.6" cy="267.5" rx="0.9" ry="0.7" fill="#7a8af0"/>
<ellipse cx="326.6" cy="273.2" rx="1.8" ry="1.6" fill="#0a1040" filter="url(#gl3)"/>
<ellipse cx="326.6" cy="277.7" rx="1.8" ry="1.6" fill="#0a1040" filter="url(#gl3)"/>
<ellipse cx="326.6" cy="285.7" rx="1.8" ry="1.6" fill="#0a1040" filter="url(#gl3)"/>
<rect x="332.59999999999997" y="215.8" width="4.6" height="1.9" fill="#142060" filter="url(#gl3)"/>
<ellipse cx="334.9" cy="234" rx="1.5" ry="1.875" fill="#6af0d8" opacity="0.35" filter="url(#gl)"/>
<ellipse cx="334.9" cy="267.5" rx="0.9" ry="0.7" fill="#7a8af0"/>
<ellipse cx="334.9" cy="273.2" rx="1.8" ry="1.6" fill="#0a1040" filter="url(#gl3)"/>
<ellipse cx="334.9" cy="277.7" rx="1.8" ry="1.6" fill="#0a1040" filter="url(#gl3)"/>
<ellipse cx="334.9" cy="285.7" rx="1.8" ry="1.6" fill="#0a1040" filter="url(#gl3)"/>
<rect x="341.3" y="215.8" width="4.6" height="1.9" fill="#142060" filter="url(#gl3)"/>
<ellipse cx="343.6" cy="234" rx="2" ry="2.5" fill="#6af0d8" opacity="0.45" filter="url(#gl)"/>
<ellipse cx="343.6" cy="267.5" rx="0.9" ry="0.7" fill="#7a8af0"/>
<ellipse cx="343.6" cy="273.2" rx="1.8" ry="1.6" fill="#0a1040" filter="url(#gl3)"/>
<ellipse cx="343.6" cy="277.7" rx="1.8" ry="1.6" fill="#0a1040" filter="url(#gl3)"/>
<ellipse cx="343.6" cy="285.7" rx="1.8" ry="1.6" fill="#0a1040" filter="url(#gl3)"/>
<rect x="349.9" y="215.8" width="4.6" height="1.9" fill="#142060" filter="url(#gl3)"/>
<ellipse cx="352.2" cy="234" rx="3" ry="3.75" fill="#6af0d8" opacity="0.8" filter="url(#gl)"/>
<ellipse cx="352.2" cy="267.5" rx="0.9" ry="0.7" fill="#7a8af0"/>
<ellipse cx="352.2" cy="273.2" rx="1.8" ry="1.6" fill="#0a1040" filter="url(#gl3)"/>
<ellipse cx="352.2" cy="277.7" rx="1.8" ry="1.6" fill="#0a1040" filter="url(#gl3)"/>
<ellipse cx="352.2" cy="285.7" rx="1.8" ry="1.6" fill="#0a1040" filter="url(#gl3)"/>
<rect x="358.2" y="215.8" width="4.6" height="1.9" fill="#142060" filter="url(#gl3)"/>
<ellipse cx="360.5" cy="234" rx="4.5" ry="5.625" fill="#6af0d8" opacity="1" filter="url(#gl)"/>
<ellipse cx="360.5" cy="267.5" rx="0.9" ry="0.7" fill="#7a8af0"/>
<ellipse cx="360.5" cy="273.2" rx="1.8" ry="1.6" fill="#0a1040" filter="url(#gl3)"/>
<ellipse cx="360.5" cy="277.7" rx="1.8" ry="1.6" fill="#0a1040" filter="url(#gl3)"/>
<ellipse cx="360.5" cy="285.7" rx="1.8" ry="1.6" fill="#0a1040" filter="url(#gl3)"/>
<text x="300.2" y="300.6" font-size="4.6" fill="#333" text-anchor="middle" font-weight="bold" >3d</text>
<text x="309.2" y="300.6" font-size="4.6" fill="#333" text-anchor="middle" font-weight="bold" >4d</text>
<text x="317.5" y="300.6" font-size="4.6" fill="#333" text-anchor="middle" font-weight="bold" >5d</text>
<text x="326.6" y="300.6" font-size="4.6" fill="#333" text-anchor="middle" font-weight="bold" >6d</text>
<text x="334.9" y="300.6" font-size="4.6" fill="#333" text-anchor="middle" font-weight="bold" >3d</text>
<text x="343.6" y="300.6" font-size="4.6" fill="#333" text-anchor="middle" font-weight="bold" >4d</text>
<text x="352.2" y="300.6" font-size="4.6" fill="#333" text-anchor="middle" font-weight="bold" >5d</text>
<text x="360.5" y="300.6" font-size="4.6" fill="#333" text-anchor="middle" font-weight="bold" >6d</text>
<line x1="295.00" y1="303.80" x2="327.00" y2="303.80" stroke="#888" stroke-width="0.5" stroke-dasharray="0.8,0.5"/>
<line x1="331.00" y1="303.80" x2="365.00" y2="303.80" stroke="#888" stroke-width="0.5" stroke-dasharray="0.8,0.5"/>
<text x="311.8" y="310.6" font-size="4.9" fill="#333" text-anchor="middle" font-weight="bold" >Wild type</text>
<text x="347.2" y="310.6" font-size="4.9" fill="#333" text-anchor="middle" font-weight="bold" >PtLPCAT1_KO</text>
<text x="3.8" y="325.3" font-size="13.6" fill="#3a3a3a" text-anchor="start" font-weight="normal" stroke="#3a3a3a" stroke-width="0.55">(k)</text>
<line x1="38.60" y1="317.40" x2="321.00" y2="317.40" stroke="#aaa" stroke-width="1.1" />
<line x1="321.00" y1="317.40" x2="321.00" y2="466.40" stroke="#aaa" stroke-width="1.1" />
<line x1="38.60" y1="317.40" x2="38.60" y2="466.40" stroke="#9a9a9a" stroke-width="1.4" />
<line x1="38.60" y1="466.40" x2="321.00" y2="466.40" stroke="#9a9a9a" stroke-width="1.4" />
<line x1="36.60" y1="466.40" x2="38.60" y2="466.40" stroke="#777" stroke-width="0.7" />
<text x="36.1" y="468.4" font-size="5.7" fill="#444" text-anchor="end" font-weight="normal" >0</text>
<line x1="36.60" y1="436.40" x2="38.60" y2="436.40" stroke="#777" stroke-width="0.7" />
<text x="36.1" y="438.4" font-size="5.7" fill="#444" text-anchor="end" font-weight="normal" >10</text>
<line x1="36.60" y1="406.40" x2="38.60" y2="406.40" stroke="#777" stroke-width="0.7" />
<text x="36.1" y="408.4" font-size="5.7" fill="#444" text-anchor="end" font-weight="normal" >20</text>
<line x1="36.60" y1="376.40" x2="38.60" y2="376.40" stroke="#777" stroke-width="0.7" />
<text x="36.1" y="378.4" font-size="5.7" fill="#444" text-anchor="end" font-weight="normal" >30</text>
<line x1="36.60" y1="346.40" x2="38.60" y2="346.40" stroke="#777" stroke-width="0.7" />
<text x="36.1" y="348.4" font-size="5.7" fill="#444" text-anchor="end" font-weight="normal" >40</text>
<line x1="36.60" y1="316.40" x2="38.60" y2="316.40" stroke="#777" stroke-width="0.7" />
<text x="36.1" y="318.4" font-size="5.7" fill="#444" text-anchor="end" font-weight="normal" >50</text>
<text transform="translate(26,391.7) rotate(-90)" font-size="7" fill="#333" text-anchor="middle" font-weight="bold">Mol % of total fatty acids</text>
<rect x="44.60" y="452.90" width="2.50" height="13.50" fill="#1a6a10" />
<line x1="45.85" y1="452.90" x2="45.85" y2="451.70" stroke="#333" stroke-width="0.5" />
<rect x="47.10" y="454.40" width="2.50" height="12.00" fill="#9a3a0c" />
<line x1="48.35" y1="454.40" x2="48.35" y2="453.20" stroke="#333" stroke-width="0.5" />
<rect x="49.60" y="454.40" width="2.50" height="12.00" fill="#58d038" />
<line x1="50.85" y1="454.40" x2="50.85" y2="453.20" stroke="#333" stroke-width="0.5" />
<rect x="52.10" y="451.40" width="2.50" height="15.00" fill="#e89a80" />
<line x1="53.35" y1="451.40" x2="53.35" y2="450.20" stroke="#333" stroke-width="0.5" />
<rect x="60.16" y="382.40" width="2.50" height="84.00" fill="#1a6a10" />
<line x1="61.41" y1="382.40" x2="61.41" y2="377.36" stroke="#333" stroke-width="0.5" />
<rect x="62.66" y="388.40" width="2.50" height="78.00" fill="#9a3a0c" />
<line x1="63.91" y1="388.40" x2="63.91" y2="383.72" stroke="#333" stroke-width="0.5" />
<rect x="65.16" y="373.40" width="2.50" height="93.00" fill="#58d038" />
<line x1="66.41" y1="373.40" x2="66.41" y2="367.82" stroke="#333" stroke-width="0.5" />
<rect x="67.66" y="379.40" width="2.50" height="87.00" fill="#e89a80" />
<line x1="68.91" y1="379.40" x2="68.91" y2="374.18" stroke="#333" stroke-width="0.5" />
<rect x="75.72" y="370.40" width="2.50" height="96.00" fill="#1a6a10" />
<line x1="76.97" y1="370.40" x2="76.97" y2="364.64" stroke="#333" stroke-width="0.5" />
<rect x="78.22" y="382.40" width="2.50" height="84.00" fill="#9a3a0c" />
<line x1="79.47" y1="382.40" x2="79.47" y2="377.36" stroke="#333" stroke-width="0.5" />
<rect x="80.72" y="334.40" width="2.50" height="132.00" fill="#58d038" />
<line x1="81.97" y1="334.40" x2="81.97" y2="326.48" stroke="#333" stroke-width="0.5" />
<rect x="83.22" y="340.40" width="2.50" height="126.00" fill="#e89a80" />
<line x1="84.47" y1="340.40" x2="84.47" y2="332.84" stroke="#333" stroke-width="0.5" />
<rect x="91.28" y="463.40" width="2.50" height="3.00" fill="#1a6a10" />
<line x1="92.53" y1="463.40" x2="92.53" y2="462.20" stroke="#333" stroke-width="0.5" />
<rect x="93.78" y="461.90" width="2.50" height="4.50" fill="#9a3a0c" />
<line x1="95.03" y1="461.90" x2="95.03" y2="460.70" stroke="#333" stroke-width="0.5" />
<rect x="96.28" y="465.50" width="2.50" height="0.90" fill="#58d038" />
<line x1="97.53" y1="465.50" x2="97.53" y2="464.30" stroke="#333" stroke-width="0.5" />
<rect x="98.78" y="465.50" width="2.50" height="0.90" fill="#e89a80" />
<line x1="100.03" y1="465.50" x2="100.03" y2="464.30" stroke="#333" stroke-width="0.5" />
<rect x="106.84" y="458.90" width="2.50" height="7.50" fill="#1a6a10" />
<line x1="108.09" y1="458.90" x2="108.09" y2="457.70" stroke="#333" stroke-width="0.5" />
<rect x="109.34" y="457.40" width="2.50" height="9.00" fill="#9a3a0c" />
<line x1="110.59" y1="457.40" x2="110.59" y2="456.20" stroke="#333" stroke-width="0.5" />
<rect x="111.84" y="462.80" width="2.50" height="3.60" fill="#58d038" />
<line x1="113.09" y1="462.80" x2="113.09" y2="461.60" stroke="#333" stroke-width="0.5" />
<rect x="114.34" y="462.80" width="2.50" height="3.60" fill="#e89a80" />
<line x1="115.59" y1="462.80" x2="115.59" y2="461.60" stroke="#333" stroke-width="0.5" />
<rect x="122.40" y="448.40" width="2.50" height="18.00" fill="#1a6a10" />
<line x1="123.65" y1="448.40" x2="123.65" y2="447.20" stroke="#333" stroke-width="0.5" />
<rect x="124.90" y="443.90" width="2.50" height="22.50" fill="#9a3a0c" />
<line x1="126.15" y1="443.90" x2="126.15" y2="442.55" stroke="#333" stroke-width="0.5" />
<rect x="127.40" y="460.40" width="2.50" height="6.00" fill="#58d038" />
<line x1="128.65" y1="460.40" x2="128.65" y2="459.20" stroke="#333" stroke-width="0.5" />
<rect x="129.90" y="460.40" width="2.50" height="6.00" fill="#e89a80" />
<line x1="131.15" y1="460.40" x2="131.15" y2="459.20" stroke="#333" stroke-width="0.5" />
<rect x="137.96" y="465.80" width="2.50" height="0.60" fill="#1a6a10" />
<rect x="140.46" y="465.80" width="2.50" height="0.60" fill="#9a3a0c" />
<rect x="142.96" y="465.80" width="2.50" height="0.60" fill="#58d038" />
<rect x="145.46" y="465.80" width="2.50" height="0.60" fill="#e89a80" />
<rect x="153.52" y="455.90" width="2.50" height="10.50" fill="#1a6a10" />
<line x1="154.77" y1="455.90" x2="154.77" y2="454.70" stroke="#333" stroke-width="0.5" />
<rect x="156.02" y="455.90" width="2.50" height="10.50" fill="#9a3a0c" />
<line x1="157.27" y1="455.90" x2="157.27" y2="454.70" stroke="#333" stroke-width="0.5" />
<rect x="158.52" y="454.40" width="2.50" height="12.00" fill="#58d038" />
<line x1="159.77" y1="454.40" x2="159.77" y2="453.20" stroke="#333" stroke-width="0.5" />
<rect x="161.02" y="454.40" width="2.50" height="12.00" fill="#e89a80" />
<line x1="162.27" y1="454.40" x2="162.27" y2="453.20" stroke="#333" stroke-width="0.5" />
<rect x="169.08" y="461.90" width="2.50" height="4.50" fill="#1a6a10" />
<line x1="170.33" y1="461.90" x2="170.33" y2="460.70" stroke="#333" stroke-width="0.5" />
<rect x="171.58" y="462.50" width="2.50" height="3.90" fill="#9a3a0c" />
<line x1="172.83" y1="462.50" x2="172.83" y2="461.30" stroke="#333" stroke-width="0.5" />
<rect x="174.08" y="463.40" width="2.50" height="3.00" fill="#58d038" />
<line x1="175.33" y1="463.40" x2="175.33" y2="462.20" stroke="#333" stroke-width="0.5" />
<rect x="176.58" y="463.40" width="2.50" height="3.00" fill="#e89a80" />
<line x1="177.83" y1="463.40" x2="177.83" y2="462.20" stroke="#333" stroke-width="0.5" />
<rect x="184.64" y="462.80" width="2.50" height="3.60" fill="#1a6a10" />
<line x1="185.89" y1="462.80" x2="185.89" y2="461.60" stroke="#333" stroke-width="0.5" />
<rect x="187.14" y="462.50" width="2.50" height="3.90" fill="#9a3a0c" />
<line x1="188.39" y1="462.50" x2="188.39" y2="461.30" stroke="#333" stroke-width="0.5" />
<rect x="189.64" y="464.00" width="2.50" height="2.40" fill="#58d038" />
<line x1="190.89" y1="464.00" x2="190.89" y2="462.80" stroke="#333" stroke-width="0.5" />
<rect x="192.14" y="464.00" width="2.50" height="2.40" fill="#e89a80" />
<line x1="193.39" y1="464.00" x2="193.39" y2="462.80" stroke="#333" stroke-width="0.5" />
<rect x="200.20" y="457.40" width="2.50" height="9.00" fill="#1a6a10" />
<line x1="201.45" y1="457.40" x2="201.45" y2="456.20" stroke="#333" stroke-width="0.5" />
<rect x="202.70" y="454.40" width="2.50" height="12.00" fill="#9a3a0c" />
<line x1="203.95" y1="454.40" x2="203.95" y2="453.20" stroke="#333" stroke-width="0.5" />
<rect x="205.20" y="460.40" width="2.50" height="6.00" fill="#58d038" />
<line x1="206.45" y1="460.40" x2="206.45" y2="459.20" stroke="#333" stroke-width="0.5" />
<rect x="207.70" y="457.40" width="2.50" height="9.00" fill="#e89a80" />
<line x1="208.95" y1="457.40" x2="208.95" y2="456.20" stroke="#333" stroke-width="0.5" />
<rect x="215.76" y="465.50" width="2.50" height="0.90" fill="#1a6a10" />
<line x1="217.01" y1="465.50" x2="217.01" y2="464.30" stroke="#333" stroke-width="0.5" />
<rect x="218.26" y="464.30" width="2.50" height="2.10" fill="#9a3a0c" />
<line x1="219.51" y1="464.30" x2="219.51" y2="463.10" stroke="#333" stroke-width="0.5" />
<rect x="220.76" y="465.50" width="2.50" height="0.90" fill="#58d038" />
<line x1="222.01" y1="465.50" x2="222.01" y2="464.30" stroke="#333" stroke-width="0.5" />
<rect x="223.26" y="465.80" width="2.50" height="0.60" fill="#e89a80" />
<line x1="224.51" y1="465.80" x2="224.51" y2="464.60" stroke="#333" stroke-width="0.5" />
<rect x="231.32" y="465.50" width="2.50" height="0.90" fill="#1a6a10" />
<line x1="232.57" y1="465.50" x2="232.57" y2="464.30" stroke="#333" stroke-width="0.5" />
<rect x="233.82" y="465.50" width="2.50" height="0.90" fill="#9a3a0c" />
<line x1="235.07" y1="465.50" x2="235.07" y2="464.30" stroke="#333" stroke-width="0.5" />
<rect x="236.32" y="465.50" width="2.50" height="0.90" fill="#58d038" />
<line x1="237.57" y1="465.50" x2="237.57" y2="464.30" stroke="#333" stroke-width="0.5" />
<rect x="238.82" y="465.20" width="2.50" height="1.20" fill="#e89a80" />
<line x1="240.07" y1="465.20" x2="240.07" y2="464.00" stroke="#333" stroke-width="0.5" />
<rect x="246.88" y="463.40" width="2.50" height="3.00" fill="#1a6a10" />
<line x1="248.13" y1="463.40" x2="248.13" y2="462.20" stroke="#333" stroke-width="0.5" />
<rect x="249.38" y="463.40" width="2.50" height="3.00" fill="#9a3a0c" />
<line x1="250.63" y1="463.40" x2="250.63" y2="462.20" stroke="#333" stroke-width="0.5" />
<rect x="251.88" y="464.00" width="2.50" height="2.40" fill="#58d038" />
<line x1="253.13" y1="464.00" x2="253.13" y2="462.80" stroke="#333" stroke-width="0.5" />
<rect x="254.38" y="464.00" width="2.50" height="2.40" fill="#e89a80" />
<line x1="255.63" y1="464.00" x2="255.63" y2="462.80" stroke="#333" stroke-width="0.5" />
<rect x="262.44" y="422.90" width="2.50" height="43.50" fill="#1a6a10" />
<line x1="263.69" y1="422.90" x2="263.69" y2="420.29" stroke="#333" stroke-width="0.5" />
<rect x="264.94" y="419.90" width="2.50" height="46.50" fill="#9a3a0c" />
<line x1="266.19" y1="419.90" x2="266.19" y2="417.11" stroke="#333" stroke-width="0.5" />
<rect x="267.44" y="439.40" width="2.50" height="27.00" fill="#58d038" />
<line x1="268.69" y1="439.40" x2="268.69" y2="437.78" stroke="#333" stroke-width="0.5" />
<rect x="269.94" y="443.90" width="2.50" height="22.50" fill="#e89a80" />
<line x1="271.19" y1="443.90" x2="271.19" y2="442.55" stroke="#333" stroke-width="0.5" />
<rect x="278.00" y="465.80" width="2.50" height="0.60" fill="#1a6a10" />
<rect x="280.50" y="465.80" width="2.50" height="0.60" fill="#9a3a0c" />
<rect x="283.00" y="465.80" width="2.50" height="0.60" fill="#58d038" />
<rect x="285.50" y="465.80" width="2.50" height="0.60" fill="#e89a80" />
<rect x="293.56" y="464.90" width="2.50" height="1.50" fill="#1a6a10" />
<line x1="294.81" y1="464.90" x2="294.81" y2="463.70" stroke="#333" stroke-width="0.5" />
<rect x="296.06" y="461.90" width="2.50" height="4.50" fill="#9a3a0c" />
<line x1="297.31" y1="461.90" x2="297.31" y2="460.70" stroke="#333" stroke-width="0.5" />
<rect x="298.56" y="464.90" width="2.50" height="1.50" fill="#58d038" />
<line x1="299.81" y1="464.90" x2="299.81" y2="463.70" stroke="#333" stroke-width="0.5" />
<rect x="301.06" y="464.90" width="2.50" height="1.50" fill="#e89a80" />
<line x1="302.31" y1="464.90" x2="302.31" y2="463.70" stroke="#333" stroke-width="0.5" />
<rect x="309.12" y="463.40" width="2.50" height="3.00" fill="#1a6a10" />
<line x1="310.37" y1="463.40" x2="310.37" y2="462.20" stroke="#333" stroke-width="0.5" />
<rect x="311.62" y="460.40" width="2.50" height="6.00" fill="#9a3a0c" />
<line x1="312.87" y1="460.40" x2="312.87" y2="459.20" stroke="#333" stroke-width="0.5" />
<rect x="314.12" y="463.40" width="2.50" height="3.00" fill="#58d038" />
<line x1="315.37" y1="463.40" x2="315.37" y2="462.20" stroke="#333" stroke-width="0.5" />
<rect x="316.62" y="461.90" width="2.50" height="4.50" fill="#e89a80" />
<line x1="317.87" y1="461.90" x2="317.87" y2="460.70" stroke="#333" stroke-width="0.5" />
<text x="49.6" y="476.3" font-size="6" fill="#555" text-anchor="middle" font-weight="normal" >14:0</text>
<text x="65.2" y="476.3" font-size="6" fill="#555" text-anchor="middle" font-weight="normal" >16:0</text>
<text x="80.7" y="476.3" font-size="6" fill="#555" text-anchor="middle" font-weight="normal" >16:1</text>
<text x="96.3" y="476.3" font-size="6" fill="#555" text-anchor="middle" font-weight="normal" >16:2</text>
<text x="111.8" y="476.3" font-size="6" fill="#555" text-anchor="middle" font-weight="normal" >16:3</text>
<text x="127.4" y="476.3" font-size="6" fill="#555" text-anchor="middle" font-weight="normal" >16:4</text>
<text x="143.0" y="476.3" font-size="6" fill="#555" text-anchor="middle" font-weight="normal" >18:0</text>
<text x="158.5" y="476.3" font-size="6" fill="#555" text-anchor="middle" font-weight="normal" >18:1</text>
<text x="174.1" y="476.3" font-size="6" fill="#555" text-anchor="middle" font-weight="normal" >18:2</text>
<text x="189.6" y="476.3" font-size="6" fill="#555" text-anchor="middle" font-weight="normal" >18:3</text>
<text x="205.2" y="476.3" font-size="6" fill="#555" text-anchor="middle" font-weight="normal" >18:4</text>
<text x="220.8" y="476.3" font-size="6" fill="#555" text-anchor="middle" font-weight="normal" >20:2</text>
<text x="236.3" y="476.3" font-size="6" fill="#555" text-anchor="middle" font-weight="normal" >20:3</text>
<text x="251.9" y="476.3" font-size="6" fill="#555" text-anchor="middle" font-weight="normal" >20:4</text>
<text x="267.4" y="476.3" font-size="6" fill="#555" text-anchor="middle" font-weight="normal" >20:5</text>
<text x="283.0" y="476.3" font-size="6" fill="#555" text-anchor="middle" font-weight="normal" >22:5</text>
<text x="298.6" y="476.3" font-size="6" fill="#555" text-anchor="middle" font-weight="normal" >22:6</text>
<text x="314.1" y="476.3" font-size="6" fill="#555" text-anchor="middle" font-weight="normal" >24:0</text>
<circle cx="49.0" cy="449.0" r="0.95" fill="#444"/>
<circle cx="49.0" cy="444.8" r="0.95" fill="#444"/>
<circle cx="53.0" cy="449.0" r="0.95" fill="#444"/>
<circle cx="62.7" cy="374.6" r="0.95" fill="#444"/>
<circle cx="68.6" cy="367.7" r="0.95" fill="#444"/>
<circle cx="78.4" cy="364.8" r="0.95" fill="#444"/>
<circle cx="78.4" cy="360.6" r="0.95" fill="#444"/>
<circle cx="84.3" cy="331.5" r="0.95" fill="#444"/>
<circle cx="84.3" cy="327.3" r="0.95" fill="#444"/>
<circle cx="95.5" cy="458.0" r="0.95" fill="#444"/>
<circle cx="100.0" cy="461.6" r="0.95" fill="#444"/>
<circle cx="100.0" cy="457.4" r="0.95" fill="#444"/>
<circle cx="100.0" cy="453.2" r="0.95" fill="#444"/>
<circle cx="126.0" cy="439.3" r="0.95" fill="#444"/>
<circle cx="126.0" cy="435.1" r="0.95" fill="#444"/>
<circle cx="126.0" cy="430.9" r="0.95" fill="#444"/>
<circle cx="204.6" cy="453.6" r="0.95" fill="#444"/>
<circle cx="204.6" cy="449.4" r="0.95" fill="#444"/>
<circle cx="204.6" cy="445.2" r="0.95" fill="#444"/>
<circle cx="209.0" cy="453.6" r="0.95" fill="#444"/>
<circle cx="209.0" cy="449.4" r="0.95" fill="#444"/>
<circle cx="209.0" cy="445.2" r="0.95" fill="#444"/>
<circle cx="272.0" cy="443.0" r="0.95" fill="#444"/>
<circle cx="272.0" cy="438.8" r="0.95" fill="#444"/>
<circle cx="313.3" cy="458.5" r="0.95" fill="#444"/>
<circle cx="313.3" cy="454.3" r="0.95" fill="#444"/>
<circle cx="313.3" cy="450.1" r="0.95" fill="#444"/>
<circle cx="313.3" cy="445.9" r="0.95" fill="#444"/>
<circle cx="319.0" cy="461.0" r="0.95" fill="#444"/>
<circle cx="319.0" cy="456.8" r="0.95" fill="#444"/>
<rect x="237.40" y="323.20" width="8.70" height="6.40" fill="#126e12" />
<text x="250.6" y="329.6" font-size="8.3" fill="#333" text-anchor="start" font-weight="normal" >WT-6d</text>
<rect x="237.40" y="335.00" width="8.70" height="6.40" fill="#e0241a" />
<text x="250.6" y="341.4" font-size="8.3" fill="#333" text-anchor="start" font-weight="normal" >PtLPCAT1_KO-6d</text>
<rect x="237.40" y="345.80" width="8.70" height="6.40" fill="#3ee030" />
<text x="250.6" y="352.2" font-size="8.3" fill="#333" text-anchor="start" font-weight="normal" >WT-9d</text>
<rect x="237.40" y="357.30" width="8.70" height="6.40" fill="#f09088" />
<text x="250.6" y="363.7" font-size="8.3" fill="#333" text-anchor="start" font-weight="normal" >PtLPCAT1_KO-9d</text>
<text x="332.5" y="324.8" font-size="13.6" fill="#3a3a3a" text-anchor="start" font-weight="normal" stroke="#3a3a3a" stroke-width="0.55">(l)</text>
<line x1="365.20" y1="318.40" x2="644.30" y2="318.40" stroke="#aaa" stroke-width="1.1" />
<line x1="644.30" y1="318.40" x2="644.30" y2="467.20" stroke="#aaa" stroke-width="1.1" />
<line x1="365.20" y1="318.40" x2="365.20" y2="467.20" stroke="#9a9a9a" stroke-width="1.4" />
<line x1="365.20" y1="467.20" x2="644.30" y2="467.20" stroke="#9a9a9a" stroke-width="1.4" />
<line x1="363.20" y1="467.20" x2="365.20" y2="467.20" stroke="#777" stroke-width="0.7" />
<text x="362.7" y="469.2" font-size="5.7" fill="#444" text-anchor="end" font-weight="normal" >0</text>
<line x1="363.20" y1="430.00" x2="365.20" y2="430.00" stroke="#777" stroke-width="0.7" />
<text x="362.7" y="432.0" font-size="5.7" fill="#444" text-anchor="end" font-weight="normal" >100</text>
<line x1="363.20" y1="392.80" x2="365.20" y2="392.80" stroke="#777" stroke-width="0.7" />
<text x="362.7" y="394.8" font-size="5.7" fill="#444" text-anchor="end" font-weight="normal" >200</text>
<line x1="363.20" y1="355.60" x2="365.20" y2="355.60" stroke="#777" stroke-width="0.7" />
<text x="362.7" y="357.6" font-size="5.7" fill="#444" text-anchor="end" font-weight="normal" >300</text>
<line x1="363.20" y1="318.40" x2="365.20" y2="318.40" stroke="#777" stroke-width="0.7" />
<text x="362.7" y="320.4" font-size="5.7" fill="#444" text-anchor="end" font-weight="normal" >400</text>
<text transform="translate(348.5,378.7) rotate(-90)" font-size="10.5" fill="#333" text-anchor="middle">nmol/mg DCW</text>
<rect x="374.70" y="451.58" width="4.40" height="15.62" fill="#126e12" />
<line x1="376.90" y1="451.58" x2="376.90" y2="450.38" stroke="#333" stroke-width="0.5" />
<rect x="379.10" y="455.30" width="4.40" height="11.90" fill="#e0241a" />
<line x1="381.30" y1="455.30" x2="381.30" y2="454.10" stroke="#333" stroke-width="0.5" />
<rect x="383.50" y="455.30" width="4.40" height="11.90" fill="#3ee030" />
<line x1="385.70" y1="455.30" x2="385.70" y2="454.10" stroke="#333" stroke-width="0.5" />
<rect x="387.90" y="456.04" width="4.40" height="11.16" fill="#f09088" />
<line x1="390.10" y1="456.04" x2="390.10" y2="454.84" stroke="#333" stroke-width="0.5" />
<rect x="402.26" y="431.86" width="4.40" height="35.34" fill="#126e12" />
<line x1="404.46" y1="431.86" x2="404.46" y2="429.74" stroke="#333" stroke-width="0.5" />
<rect x="406.66" y="441.16" width="4.40" height="26.04" fill="#e0241a" />
<line x1="408.86" y1="441.16" x2="408.86" y2="439.60" stroke="#333" stroke-width="0.5" />
<rect x="411.06" y="414.00" width="4.40" height="53.20" fill="#3ee030" />
<line x1="413.26" y1="414.00" x2="413.26" y2="410.81" stroke="#333" stroke-width="0.5" />
<rect x="415.46" y="423.30" width="4.40" height="43.90" fill="#f09088" />
<line x1="417.66" y1="423.30" x2="417.66" y2="420.67" stroke="#333" stroke-width="0.5" />
<rect x="429.82" y="450.46" width="4.40" height="16.74" fill="#126e12" />
<line x1="432.02" y1="450.46" x2="432.02" y2="449.26" stroke="#333" stroke-width="0.5" />
<rect x="434.22" y="456.04" width="4.40" height="11.16" fill="#e0241a" />
<line x1="436.42" y1="456.04" x2="436.42" y2="454.84" stroke="#333" stroke-width="0.5" />
<rect x="438.62" y="441.16" width="4.40" height="26.04" fill="#3ee030" />
<line x1="440.82" y1="441.16" x2="440.82" y2="439.60" stroke="#333" stroke-width="0.5" />
<rect x="443.02" y="446.00" width="4.40" height="21.20" fill="#f09088" />
<line x1="445.22" y1="446.00" x2="445.22" y2="444.72" stroke="#333" stroke-width="0.5" />
<rect x="457.38" y="466.60" width="4.40" height="0.60" fill="#126e12" />
<line x1="459.58" y1="466.60" x2="459.58" y2="465.40" stroke="#333" stroke-width="0.5" />
<rect x="461.78" y="466.60" width="4.40" height="0.60" fill="#e0241a" />
<line x1="463.98" y1="466.60" x2="463.98" y2="465.40" stroke="#333" stroke-width="0.5" />
<rect x="466.18" y="466.60" width="4.40" height="0.60" fill="#3ee030" />
<line x1="468.38" y1="466.60" x2="468.38" y2="465.40" stroke="#333" stroke-width="0.5" />
<rect x="470.58" y="466.60" width="4.40" height="0.60" fill="#f09088" />
<line x1="472.78" y1="466.60" x2="472.78" y2="465.40" stroke="#333" stroke-width="0.5" />
<rect x="484.94" y="466.60" width="4.40" height="0.60" fill="#126e12" />
<line x1="487.14" y1="466.60" x2="487.14" y2="465.40" stroke="#333" stroke-width="0.5" />
<rect x="489.34" y="466.60" width="4.40" height="0.60" fill="#e0241a" />
<line x1="491.54" y1="466.60" x2="491.54" y2="465.40" stroke="#333" stroke-width="0.5" />
<rect x="493.74" y="466.60" width="4.40" height="0.60" fill="#3ee030" />
<line x1="495.94" y1="466.60" x2="495.94" y2="465.40" stroke="#333" stroke-width="0.5" />
<rect x="498.14" y="466.60" width="4.40" height="0.60" fill="#f09088" />
<line x1="500.34" y1="466.60" x2="500.34" y2="465.40" stroke="#333" stroke-width="0.5" />
<rect x="512.50" y="466.83" width="4.40" height="0.37" fill="#126e12" />
<line x1="514.70" y1="466.83" x2="514.70" y2="465.63" stroke="#333" stroke-width="0.5" />
<rect x="516.90" y="466.83" width="4.40" height="0.37" fill="#e0241a" />
<line x1="519.10" y1="466.83" x2="519.10" y2="465.63" stroke="#333" stroke-width="0.5" />
<rect x="521.30" y="466.83" width="4.40" height="0.37" fill="#3ee030" />
<line x1="523.50" y1="466.83" x2="523.50" y2="465.63" stroke="#333" stroke-width="0.5" />
<rect x="525.70" y="466.83" width="4.40" height="0.37" fill="#f09088" />
<line x1="527.90" y1="466.83" x2="527.90" y2="465.63" stroke="#333" stroke-width="0.5" />
<rect x="540.06" y="466.83" width="4.40" height="0.37" fill="#126e12" />
<line x1="542.26" y1="466.83" x2="542.26" y2="465.63" stroke="#333" stroke-width="0.5" />
<rect x="544.46" y="466.83" width="4.40" height="0.37" fill="#e0241a" />
<line x1="546.66" y1="466.83" x2="546.66" y2="465.63" stroke="#333" stroke-width="0.5" />
<rect x="548.86" y="466.83" width="4.40" height="0.37" fill="#3ee030" />
<line x1="551.06" y1="466.83" x2="551.06" y2="465.63" stroke="#333" stroke-width="0.5" />
<rect x="553.26" y="466.83" width="4.40" height="0.37" fill="#f09088" />
<line x1="555.46" y1="466.83" x2="555.46" y2="465.63" stroke="#333" stroke-width="0.5" />
<rect x="567.62" y="460.88" width="4.40" height="6.32" fill="#126e12" />
<line x1="569.82" y1="460.88" x2="569.82" y2="459.68" stroke="#333" stroke-width="0.5" />
<rect x="572.02" y="461.62" width="4.40" height="5.58" fill="#e0241a" />
<line x1="574.22" y1="461.62" x2="574.22" y2="460.42" stroke="#333" stroke-width="0.5" />
<rect x="576.42" y="461.62" width="4.40" height="5.58" fill="#3ee030" />
<line x1="578.62" y1="461.62" x2="578.62" y2="460.42" stroke="#333" stroke-width="0.5" />
<rect x="580.82" y="461.25" width="4.40" height="5.95" fill="#f09088" />
<line x1="583.02" y1="461.25" x2="583.02" y2="460.05" stroke="#333" stroke-width="0.5" />
<rect x="595.18" y="464.22" width="4.40" height="2.98" fill="#126e12" />
<line x1="597.38" y1="464.22" x2="597.38" y2="463.02" stroke="#333" stroke-width="0.5" />
<rect x="599.58" y="464.60" width="4.40" height="2.60" fill="#e0241a" />
<line x1="601.78" y1="464.60" x2="601.78" y2="463.40" stroke="#333" stroke-width="0.5" />
<rect x="603.98" y="464.22" width="4.40" height="2.98" fill="#3ee030" />
<line x1="606.18" y1="464.22" x2="606.18" y2="463.02" stroke="#333" stroke-width="0.5" />
<rect x="608.38" y="464.97" width="4.40" height="2.23" fill="#f09088" />
<line x1="610.58" y1="464.97" x2="610.58" y2="463.77" stroke="#333" stroke-width="0.5" />
<rect x="622.74" y="430.00" width="4.40" height="37.20" fill="#126e12" />
<line x1="624.94" y1="430.00" x2="624.94" y2="427.77" stroke="#333" stroke-width="0.5" />
<rect x="627.14" y="438.56" width="4.40" height="28.64" fill="#e0241a" />
<line x1="629.34" y1="438.56" x2="629.34" y2="436.84" stroke="#333" stroke-width="0.5" />
<rect x="631.54" y="366.76" width="4.40" height="100.44" fill="#3ee030" />
<line x1="633.74" y1="366.76" x2="633.74" y2="360.73" stroke="#333" stroke-width="0.5" />
<rect x="635.94" y="392.80" width="4.40" height="74.40" fill="#f09088" />
<line x1="638.14" y1="392.80" x2="638.14" y2="388.34" stroke="#333" stroke-width="0.5" />
<text x="383.5" y="476.5" font-size="5.8" fill="#555" text-anchor="middle" font-weight="normal" >SQDG</text>
<text x="411.1" y="476.5" font-size="5.8" fill="#555" text-anchor="middle" font-weight="normal" >MGDG</text>
<text x="438.6" y="476.5" font-size="5.8" fill="#555" text-anchor="middle" font-weight="normal" >DGDG</text>
<text x="466.2" y="476.5" font-size="5.8" fill="#555" text-anchor="middle" font-weight="normal" >PG</text>
<text x="493.7" y="476.5" font-size="5.8" fill="#555" text-anchor="middle" font-weight="normal" >PI</text>
<text x="521.3" y="476.5" font-size="5.8" fill="#555" text-anchor="middle" font-weight="normal" >PE</text>
<text x="548.9" y="476.5" font-size="5.8" fill="#555" text-anchor="middle" font-weight="normal" >PC</text>
<text x="576.4" y="476.5" font-size="5.8" fill="#555" text-anchor="middle" font-weight="normal" >DGTA</text>
<text x="604.0" y="476.5" font-size="5.8" fill="#555" text-anchor="middle" font-weight="normal" >DAG</text>
<text x="631.5" y="476.5" font-size="5.8" fill="#555" text-anchor="middle" font-weight="normal" >TAG</text>
<circle cx="418.5" cy="407.0" r="0.95" fill="#444"/>
<circle cx="446.0" cy="435.3" r="0.95" fill="#444"/>
<circle cx="639.5" cy="357.0" r="0.95" fill="#444"/>
<circle cx="639.5" cy="352.8" r="0.95" fill="#444"/>
<rect x="549.60" y="324.60" width="8.70" height="6.40" fill="#126e12" />
<text x="561.5" y="331.0" font-size="8.3" fill="#333" text-anchor="start" font-weight="normal" >WT-6d</text>
<rect x="549.60" y="336.40" width="8.70" height="6.40" fill="#e0241a" />
<text x="561.5" y="342.8" font-size="8.3" fill="#333" text-anchor="start" font-weight="normal" >PtLPCAT1_KO-6d</text>
<rect x="549.60" y="346.90" width="8.70" height="6.40" fill="#3ee030" />
<text x="561.5" y="353.3" font-size="8.3" fill="#333" text-anchor="start" font-weight="normal" >WT-9d</text>
<rect x="549.60" y="359.20" width="8.70" height="6.40" fill="#f09088" />
<text x="561.5" y="365.6" font-size="8.3" fill="#333" text-anchor="start" font-weight="normal" >PtLPCAT1_KO-9d</text>
<rect x="464" y="372.6" width="94.7" height="75.3" fill="#fff"/>
<line x1="464.00" y1="372.60" x2="558.70" y2="372.60" stroke="#bbb" stroke-width="0.7" />
<line x1="558.70" y1="372.60" x2="558.70" y2="447.90" stroke="#bbb" stroke-width="0.7" />
<line x1="464.00" y1="372.60" x2="464.00" y2="447.90" stroke="#888" stroke-width="0.8" />
<line x1="464.00" y1="447.90" x2="558.70" y2="447.90" stroke="#888" stroke-width="0.8" />
<line x1="462.50" y1="447.90" x2="464.00" y2="447.90" stroke="#777" stroke-width="0.5" />
<text x="461.8" y="448.9" font-size="2.6" fill="#666" text-anchor="end" font-weight="normal" >0</text>
<line x1="462.50" y1="432.84" x2="464.00" y2="432.84" stroke="#777" stroke-width="0.5" />
<text x="461.8" y="433.8" font-size="2.6" fill="#666" text-anchor="end" font-weight="normal" >0.5</text>
<line x1="462.50" y1="417.78" x2="464.00" y2="417.78" stroke="#777" stroke-width="0.5" />
<text x="461.8" y="418.8" font-size="2.6" fill="#666" text-anchor="end" font-weight="normal" >1.0</text>
<line x1="462.50" y1="402.72" x2="464.00" y2="402.72" stroke="#777" stroke-width="0.5" />
<text x="461.8" y="403.7" font-size="2.6" fill="#666" text-anchor="end" font-weight="normal" >1.5</text>
<line x1="462.50" y1="387.66" x2="464.00" y2="387.66" stroke="#777" stroke-width="0.5" />
<text x="461.8" y="388.7" font-size="2.6" fill="#666" text-anchor="end" font-weight="normal" >2.0</text>
<line x1="462.50" y1="372.60" x2="464.00" y2="372.60" stroke="#777" stroke-width="0.5" />
<text x="461.8" y="373.6" font-size="2.6" fill="#666" text-anchor="end" font-weight="normal" >2.5</text>
<text transform="translate(451.5,405) rotate(-90)" font-size="4" fill="#555" text-anchor="middle">nmol/mg DCW</text>
<rect x="471.10" y="399.86" width="4.10" height="48.04" fill="#126e12" />
<rect x="475.20" y="402.12" width="4.10" height="45.78" fill="#e0241a" />
<rect x="479.30" y="428.77" width="4.10" height="19.13" fill="#3ee030" />
<rect x="483.40" y="423.80" width="4.10" height="24.10" fill="#f09088" />
<rect x="493.70" y="412.36" width="4.10" height="35.54" fill="#126e12" />
<rect x="497.80" y="411.76" width="4.10" height="36.14" fill="#e0241a" />
<rect x="501.90" y="425.61" width="4.10" height="22.29" fill="#3ee030" />
<rect x="506.00" y="427.42" width="4.10" height="20.48" fill="#f09088" />
<rect x="517.30" y="415.97" width="4.10" height="31.93" fill="#126e12" />
<rect x="521.40" y="426.21" width="4.10" height="21.69" fill="#e0241a" />
<rect x="525.50" y="421.54" width="4.10" height="26.36" fill="#3ee030" />
<rect x="529.60" y="385.25" width="4.10" height="62.65" fill="#f09088" />
<rect x="540.00" y="422.00" width="4.10" height="25.90" fill="#126e12" />
<rect x="544.10" y="422.00" width="4.10" height="25.90" fill="#e0241a" />
<rect x="548.20" y="431.94" width="4.10" height="15.96" fill="#3ee030" />
<rect x="552.30" y="418.38" width="4.10" height="29.52" fill="#f09088" />
<line x1="473.15" y1="399.86" x2="473.15" y2="395.34" stroke="#555" stroke-width="0.5" />
<line x1="477.25" y1="402.12" x2="477.25" y2="387.06" stroke="#555" stroke-width="0.5" />
<line x1="481.35" y1="428.77" x2="481.35" y2="425.76" stroke="#555" stroke-width="0.5" />
<line x1="485.45" y1="423.80" x2="485.45" y2="420.79" stroke="#555" stroke-width="0.5" />
<line x1="495.75" y1="412.36" x2="495.75" y2="409.35" stroke="#555" stroke-width="0.5" />
<line x1="499.85" y1="411.76" x2="499.85" y2="399.71" stroke="#555" stroke-width="0.5" />
<line x1="503.95" y1="425.61" x2="503.95" y2="422.60" stroke="#555" stroke-width="0.5" />
<line x1="508.05" y1="427.42" x2="508.05" y2="424.41" stroke="#555" stroke-width="0.5" />
<line x1="519.35" y1="415.97" x2="519.35" y2="411.45" stroke="#555" stroke-width="0.5" />
<line x1="523.45" y1="426.21" x2="523.45" y2="418.68" stroke="#555" stroke-width="0.5" />
<line x1="527.55" y1="421.54" x2="527.55" y2="409.50" stroke="#555" stroke-width="0.5" />
<line x1="531.65" y1="385.25" x2="531.65" y2="380.73" stroke="#555" stroke-width="0.5" />
<line x1="542.05" y1="422.00" x2="542.05" y2="417.48" stroke="#555" stroke-width="0.5" />
<line x1="546.15" y1="422.00" x2="546.15" y2="411.45" stroke="#555" stroke-width="0.5" />
<line x1="550.25" y1="431.94" x2="550.25" y2="428.92" stroke="#555" stroke-width="0.5" />
<line x1="554.35" y1="418.38" x2="554.35" y2="412.36" stroke="#555" stroke-width="0.5" />
<text x="479.3" y="453.3" font-size="3.4" fill="#555" text-anchor="middle" font-weight="normal" >PG</text>
<text x="501.9" y="453.3" font-size="3.4" fill="#555" text-anchor="middle" font-weight="normal" >PI</text>
<text x="525.5" y="453.3" font-size="3.4" fill="#555" text-anchor="middle" font-weight="normal" >PE</text>
<text x="548.2" y="453.3" font-size="3.4" fill="#555" text-anchor="middle" font-weight="normal" >PC</text>
<rect x="486.30" y="375.50" width="3.60" height="3.60" fill="#126e12" />
<text x="492.4" y="378.7" font-size="3.8" fill="#444" text-anchor="start" font-weight="normal" >WT-6d</text>
<rect x="486.30" y="381.70" width="3.60" height="3.60" fill="#e0241a" />
<text x="492.4" y="384.9" font-size="3.8" fill="#444" text-anchor="start" font-weight="normal" >PtLPCAT1_KO-6d</text>
<rect x="486.30" y="387.60" width="3.60" height="3.60" fill="#3ee030" />
<text x="492.4" y="390.8" font-size="3.8" fill="#444" text-anchor="start" font-weight="normal" >WT-9d</text>
<rect x="486.30" y="394.00" width="3.60" height="3.60" fill="#f09088" />
<text x="492.4" y="397.2" font-size="3.8" fill="#444" text-anchor="start" font-weight="normal" >PtLPCAT1_KO-9d</text>
<circle cx="531.5" cy="379.5" r="0.95" fill="#444"/>
<circle cx="531.5" cy="375.0" r="0.95" fill="#444"/>
<circle cx="554.5" cy="412.4" r="0.95" fill="#444"/>
<circle cx="554.5" cy="408.0" r="0.95" fill="#444"/>
<text x="3.5" y="488.6" font-size="13.6" fill="#3a3a3a" text-anchor="start" font-weight="normal" stroke="#3a3a3a" stroke-width="0.55">(m)</text>
<line x1="40.10" y1="484.60" x2="321.40" y2="484.60" stroke="#aaa" stroke-width="1.1" />
<line x1="321.40" y1="484.60" x2="321.40" y2="641.60" stroke="#aaa" stroke-width="1.1" />
<line x1="40.10" y1="484.60" x2="40.10" y2="641.60" stroke="#9a9a9a" stroke-width="1.4" />
<line x1="40.10" y1="641.60" x2="321.40" y2="641.60" stroke="#9a9a9a" stroke-width="1.4" />
<line x1="38.10" y1="641.60" x2="40.10" y2="641.60" stroke="#777" stroke-width="0.7" />
<text x="37.6" y="643.6" font-size="5.7" fill="#444" text-anchor="end" font-weight="normal" >0</text>
<line x1="38.10" y1="602.40" x2="40.10" y2="602.40" stroke="#777" stroke-width="0.7" />
<text x="37.6" y="604.4" font-size="5.7" fill="#444" text-anchor="end" font-weight="normal" >10</text>
<line x1="38.10" y1="563.20" x2="40.10" y2="563.20" stroke="#777" stroke-width="0.7" />
<text x="37.6" y="565.2" font-size="5.7" fill="#444" text-anchor="end" font-weight="normal" >20</text>
<line x1="38.10" y1="524.00" x2="40.10" y2="524.00" stroke="#777" stroke-width="0.7" />
<text x="37.6" y="526.0" font-size="5.7" fill="#444" text-anchor="end" font-weight="normal" >30</text>
<line x1="38.10" y1="484.80" x2="40.10" y2="484.80" stroke="#777" stroke-width="0.7" />
<text x="37.6" y="486.8" font-size="5.7" fill="#444" text-anchor="end" font-weight="normal" >40</text>
<text transform="translate(27.5,564) rotate(-90)" font-size="10.5" fill="#333" text-anchor="middle">Mol %</text>
<text x="54.0" y="497.2" font-size="8.3" fill="#222" text-anchor="start" font-weight="bold" >MGDG</text>
<rect x="42.50" y="638.86" width="2.50" height="2.74" fill="#1a6a10" />
<line x1="43.75" y1="638.86" x2="43.75" y2="637.66" stroke="#333" stroke-width="0.5" />
<rect x="45.00" y="633.37" width="2.50" height="8.23" fill="#c8281a" />
<line x1="46.25" y1="633.37" x2="46.25" y2="632.17" stroke="#333" stroke-width="0.5" />
<rect x="47.50" y="637.68" width="2.50" height="3.92" fill="#50d838" />
<line x1="48.75" y1="637.68" x2="48.75" y2="636.48" stroke="#333" stroke-width="0.5" />
<rect x="50.00" y="639.64" width="2.50" height="1.96" fill="#eca090" />
<line x1="51.25" y1="639.64" x2="51.25" y2="638.44" stroke="#333" stroke-width="0.5" />
<rect x="54.15" y="629.84" width="2.50" height="11.76" fill="#1a6a10" />
<line x1="55.40" y1="629.84" x2="55.40" y2="628.64" stroke="#333" stroke-width="0.5" />
<rect x="56.65" y="620.82" width="2.50" height="20.78" fill="#c8281a" />
<line x1="57.90" y1="620.82" x2="57.90" y2="619.58" stroke="#333" stroke-width="0.5" />
<rect x="59.15" y="635.33" width="2.50" height="6.27" fill="#50d838" />
<line x1="60.40" y1="635.33" x2="60.40" y2="634.13" stroke="#333" stroke-width="0.5" />
<rect x="61.65" y="632.19" width="2.50" height="9.41" fill="#eca090" />
<line x1="62.90" y1="632.19" x2="62.90" y2="630.99" stroke="#333" stroke-width="0.5" />
<rect x="65.80" y="640.42" width="2.50" height="1.18" fill="#1a6a10" />
<line x1="67.05" y1="640.42" x2="67.05" y2="639.22" stroke="#333" stroke-width="0.5" />
<rect x="68.30" y="640.42" width="2.50" height="1.18" fill="#c8281a" />
<line x1="69.55" y1="640.42" x2="69.55" y2="639.22" stroke="#333" stroke-width="0.5" />
<rect x="70.80" y="640.82" width="2.50" height="0.78" fill="#50d838" />
<line x1="72.05" y1="640.82" x2="72.05" y2="639.62" stroke="#333" stroke-width="0.5" />
<rect x="73.30" y="640.82" width="2.50" height="0.78" fill="#eca090" />
<line x1="74.55" y1="640.82" x2="74.55" y2="639.62" stroke="#333" stroke-width="0.5" />
<rect x="77.45" y="637.68" width="2.50" height="3.92" fill="#1a6a10" />
<line x1="78.70" y1="637.68" x2="78.70" y2="636.48" stroke="#333" stroke-width="0.5" />
<rect x="79.95" y="637.68" width="2.50" height="3.92" fill="#c8281a" />
<line x1="81.20" y1="637.68" x2="81.20" y2="636.48" stroke="#333" stroke-width="0.5" />
<rect x="82.45" y="639.64" width="2.50" height="1.96" fill="#50d838" />
<line x1="83.70" y1="639.64" x2="83.70" y2="638.44" stroke="#333" stroke-width="0.5" />
<rect x="84.95" y="639.64" width="2.50" height="1.96" fill="#eca090" />
<line x1="86.20" y1="639.64" x2="86.20" y2="638.44" stroke="#333" stroke-width="0.5" />
<rect x="89.10" y="631.80" width="2.50" height="9.80" fill="#1a6a10" />
<line x1="90.35" y1="631.80" x2="90.35" y2="630.60" stroke="#333" stroke-width="0.5" />
<rect x="91.60" y="604.36" width="2.50" height="37.24" fill="#c8281a" />
<line x1="92.85" y1="604.36" x2="92.85" y2="602.13" stroke="#333" stroke-width="0.5" />
<rect x="94.10" y="633.76" width="2.50" height="7.84" fill="#50d838" />
<line x1="95.35" y1="633.76" x2="95.35" y2="632.56" stroke="#333" stroke-width="0.5" />
<rect x="96.60" y="623.96" width="2.50" height="17.64" fill="#eca090" />
<line x1="97.85" y1="623.96" x2="97.85" y2="622.76" stroke="#333" stroke-width="0.5" />
<rect x="100.75" y="641.00" width="2.50" height="0.60" fill="#1a6a10" />
<rect x="103.25" y="641.00" width="2.50" height="0.60" fill="#c8281a" />
<rect x="105.75" y="641.00" width="2.50" height="0.60" fill="#50d838" />
<rect x="108.25" y="641.00" width="2.50" height="0.60" fill="#eca090" />
<rect x="112.40" y="610.24" width="2.50" height="31.36" fill="#1a6a10" />
<line x1="113.65" y1="610.24" x2="113.65" y2="608.36" stroke="#333" stroke-width="0.5" />
<rect x="114.90" y="557.32" width="2.50" height="84.28" fill="#c8281a" />
<line x1="116.15" y1="557.32" x2="116.15" y2="552.26" stroke="#333" stroke-width="0.5" />
<rect x="117.40" y="602.40" width="2.50" height="39.20" fill="#50d838" />
<line x1="118.65" y1="602.40" x2="118.65" y2="600.05" stroke="#333" stroke-width="0.5" />
<rect x="119.90" y="598.48" width="2.50" height="43.12" fill="#eca090" />
<line x1="121.15" y1="598.48" x2="121.15" y2="595.89" stroke="#333" stroke-width="0.5" />
<rect x="124.05" y="610.24" width="2.50" height="31.36" fill="#1a6a10" />
<line x1="125.30" y1="610.24" x2="125.30" y2="608.36" stroke="#333" stroke-width="0.5" />
<rect x="126.55" y="606.32" width="2.50" height="35.28" fill="#c8281a" />
<line x1="127.80" y1="606.32" x2="127.80" y2="604.20" stroke="#333" stroke-width="0.5" />
<rect x="129.05" y="610.24" width="2.50" height="31.36" fill="#50d838" />
<line x1="130.30" y1="610.24" x2="130.30" y2="608.36" stroke="#333" stroke-width="0.5" />
<rect x="131.55" y="606.32" width="2.50" height="35.28" fill="#eca090" />
<line x1="132.80" y1="606.32" x2="132.80" y2="604.20" stroke="#333" stroke-width="0.5" />
<rect x="135.70" y="623.96" width="2.50" height="17.64" fill="#1a6a10" />
<line x1="136.95" y1="623.96" x2="136.95" y2="622.76" stroke="#333" stroke-width="0.5" />
<rect x="138.20" y="625.92" width="2.50" height="15.68" fill="#c8281a" />
<line x1="139.45" y1="625.92" x2="139.45" y2="624.72" stroke="#333" stroke-width="0.5" />
<rect x="140.70" y="627.88" width="2.50" height="13.72" fill="#50d838" />
<line x1="141.95" y1="627.88" x2="141.95" y2="626.68" stroke="#333" stroke-width="0.5" />
<rect x="143.20" y="625.92" width="2.50" height="15.68" fill="#eca090" />
<line x1="144.45" y1="625.92" x2="144.45" y2="624.72" stroke="#333" stroke-width="0.5" />
<rect x="147.35" y="612.20" width="2.50" height="29.40" fill="#1a6a10" />
<line x1="148.60" y1="612.20" x2="148.60" y2="610.44" stroke="#333" stroke-width="0.5" />
<rect x="149.85" y="614.16" width="2.50" height="27.44" fill="#c8281a" />
<line x1="151.10" y1="614.16" x2="151.10" y2="612.51" stroke="#333" stroke-width="0.5" />
<rect x="152.35" y="614.16" width="2.50" height="27.44" fill="#50d838" />
<line x1="153.60" y1="614.16" x2="153.60" y2="612.51" stroke="#333" stroke-width="0.5" />
<rect x="154.85" y="612.20" width="2.50" height="29.40" fill="#eca090" />
<line x1="156.10" y1="612.20" x2="156.10" y2="610.44" stroke="#333" stroke-width="0.5" />
<rect x="159.00" y="639.64" width="2.50" height="1.96" fill="#1a6a10" />
<line x1="160.25" y1="639.64" x2="160.25" y2="638.44" stroke="#333" stroke-width="0.5" />
<rect x="161.50" y="639.64" width="2.50" height="1.96" fill="#c8281a" />
<line x1="162.75" y1="639.64" x2="162.75" y2="638.44" stroke="#333" stroke-width="0.5" />
<rect x="164.00" y="640.42" width="2.50" height="1.18" fill="#50d838" />
<line x1="165.25" y1="640.42" x2="165.25" y2="639.22" stroke="#333" stroke-width="0.5" />
<rect x="166.50" y="640.42" width="2.50" height="1.18" fill="#eca090" />
<line x1="167.75" y1="640.42" x2="167.75" y2="639.22" stroke="#333" stroke-width="0.5" />
<rect x="170.65" y="639.64" width="2.50" height="1.96" fill="#1a6a10" />
<line x1="171.90" y1="639.64" x2="171.90" y2="638.44" stroke="#333" stroke-width="0.5" />
<rect x="173.15" y="639.64" width="2.50" height="1.96" fill="#c8281a" />
<line x1="174.40" y1="639.64" x2="174.40" y2="638.44" stroke="#333" stroke-width="0.5" />
<rect x="175.65" y="640.42" width="2.50" height="1.18" fill="#50d838" />
<line x1="176.90" y1="640.42" x2="176.90" y2="639.22" stroke="#333" stroke-width="0.5" />
<rect x="178.15" y="640.42" width="2.50" height="1.18" fill="#eca090" />
<line x1="179.40" y1="640.42" x2="179.40" y2="639.22" stroke="#333" stroke-width="0.5" />
<rect x="182.30" y="618.08" width="2.50" height="23.52" fill="#1a6a10" />
<line x1="183.55" y1="618.08" x2="183.55" y2="616.67" stroke="#333" stroke-width="0.5" />
<rect x="184.80" y="627.88" width="2.50" height="13.72" fill="#c8281a" />
<line x1="186.05" y1="627.88" x2="186.05" y2="626.68" stroke="#333" stroke-width="0.5" />
<rect x="187.30" y="627.88" width="2.50" height="13.72" fill="#50d838" />
<line x1="188.55" y1="627.88" x2="188.55" y2="626.68" stroke="#333" stroke-width="0.5" />
<rect x="189.80" y="627.88" width="2.50" height="13.72" fill="#eca090" />
<line x1="191.05" y1="627.88" x2="191.05" y2="626.68" stroke="#333" stroke-width="0.5" />
<rect x="193.95" y="631.80" width="2.50" height="9.80" fill="#1a6a10" />
<line x1="195.20" y1="631.80" x2="195.20" y2="630.60" stroke="#333" stroke-width="0.5" />
<rect x="196.45" y="635.72" width="2.50" height="5.88" fill="#c8281a" />
<line x1="197.70" y1="635.72" x2="197.70" y2="634.52" stroke="#333" stroke-width="0.5" />
<rect x="198.95" y="639.64" width="2.50" height="1.96" fill="#50d838" />
<line x1="200.20" y1="639.64" x2="200.20" y2="638.44" stroke="#333" stroke-width="0.5" />
<rect x="201.45" y="639.64" width="2.50" height="1.96" fill="#eca090" />
<line x1="202.70" y1="639.64" x2="202.70" y2="638.44" stroke="#333" stroke-width="0.5" />
<rect x="205.60" y="640.42" width="2.50" height="1.18" fill="#1a6a10" />
<line x1="206.85" y1="640.42" x2="206.85" y2="639.22" stroke="#333" stroke-width="0.5" />
<rect x="208.10" y="640.42" width="2.50" height="1.18" fill="#c8281a" />
<line x1="209.35" y1="640.42" x2="209.35" y2="639.22" stroke="#333" stroke-width="0.5" />
<rect x="210.60" y="640.42" width="2.50" height="1.18" fill="#50d838" />
<line x1="211.85" y1="640.42" x2="211.85" y2="639.22" stroke="#333" stroke-width="0.5" />
<rect x="213.10" y="640.42" width="2.50" height="1.18" fill="#eca090" />
<line x1="214.35" y1="640.42" x2="214.35" y2="639.22" stroke="#333" stroke-width="0.5" />
<rect x="217.25" y="638.46" width="2.50" height="3.14" fill="#1a6a10" />
<line x1="218.50" y1="638.46" x2="218.50" y2="637.26" stroke="#333" stroke-width="0.5" />
<rect x="219.75" y="639.64" width="2.50" height="1.96" fill="#c8281a" />
<line x1="221.00" y1="639.64" x2="221.00" y2="638.44" stroke="#333" stroke-width="0.5" />
<rect x="222.25" y="638.46" width="2.50" height="3.14" fill="#50d838" />
<line x1="223.50" y1="638.46" x2="223.50" y2="637.26" stroke="#333" stroke-width="0.5" />
<rect x="224.75" y="639.25" width="2.50" height="2.35" fill="#eca090" />
<line x1="226.00" y1="639.25" x2="226.00" y2="638.05" stroke="#333" stroke-width="0.5" />
<rect x="228.90" y="633.76" width="2.50" height="7.84" fill="#1a6a10" />
<line x1="230.15" y1="633.76" x2="230.15" y2="632.56" stroke="#333" stroke-width="0.5" />
<rect x="231.40" y="635.72" width="2.50" height="5.88" fill="#c8281a" />
<line x1="232.65" y1="635.72" x2="232.65" y2="634.52" stroke="#333" stroke-width="0.5" />
<rect x="233.90" y="633.76" width="2.50" height="7.84" fill="#50d838" />
<line x1="235.15" y1="633.76" x2="235.15" y2="632.56" stroke="#333" stroke-width="0.5" />
<rect x="236.40" y="633.76" width="2.50" height="7.84" fill="#eca090" />
<line x1="237.65" y1="633.76" x2="237.65" y2="632.56" stroke="#333" stroke-width="0.5" />
<rect x="240.55" y="631.80" width="2.50" height="9.80" fill="#1a6a10" />
<line x1="241.80" y1="631.80" x2="241.80" y2="630.60" stroke="#333" stroke-width="0.5" />
<rect x="243.05" y="631.80" width="2.50" height="9.80" fill="#c8281a" />
<line x1="244.30" y1="631.80" x2="244.30" y2="630.60" stroke="#333" stroke-width="0.5" />
<rect x="245.55" y="633.76" width="2.50" height="7.84" fill="#50d838" />
<line x1="246.80" y1="633.76" x2="246.80" y2="632.56" stroke="#333" stroke-width="0.5" />
<rect x="248.05" y="631.80" width="2.50" height="9.80" fill="#eca090" />
<line x1="249.30" y1="631.80" x2="249.30" y2="630.60" stroke="#333" stroke-width="0.5" />
<rect x="252.20" y="622.00" width="2.50" height="19.60" fill="#1a6a10" />
<line x1="253.45" y1="622.00" x2="253.45" y2="620.80" stroke="#333" stroke-width="0.5" />
<rect x="254.70" y="627.88" width="2.50" height="13.72" fill="#c8281a" />
<line x1="255.95" y1="627.88" x2="255.95" y2="626.68" stroke="#333" stroke-width="0.5" />
<rect x="257.20" y="620.04" width="2.50" height="21.56" fill="#50d838" />
<line x1="258.45" y1="620.04" x2="258.45" y2="618.75" stroke="#333" stroke-width="0.5" />
<rect x="259.70" y="623.96" width="2.50" height="17.64" fill="#eca090" />
<line x1="260.95" y1="623.96" x2="260.95" y2="622.76" stroke="#333" stroke-width="0.5" />
<rect x="263.85" y="606.32" width="2.50" height="35.28" fill="#1a6a10" />
<line x1="265.10" y1="606.32" x2="265.10" y2="604.20" stroke="#333" stroke-width="0.5" />
<rect x="266.35" y="622.00" width="2.50" height="19.60" fill="#c8281a" />
<line x1="267.60" y1="622.00" x2="267.60" y2="620.80" stroke="#333" stroke-width="0.5" />
<rect x="268.85" y="594.56" width="2.50" height="47.04" fill="#50d838" />
<line x1="270.10" y1="594.56" x2="270.10" y2="591.74" stroke="#333" stroke-width="0.5" />
<rect x="271.35" y="606.32" width="2.50" height="35.28" fill="#eca090" />
<line x1="272.60" y1="606.32" x2="272.60" y2="604.20" stroke="#333" stroke-width="0.5" />
<rect x="275.50" y="520.08" width="2.50" height="121.52" fill="#1a6a10" />
<line x1="276.75" y1="520.08" x2="276.75" y2="512.79" stroke="#333" stroke-width="0.5" />
<rect x="278.00" y="582.80" width="2.50" height="58.80" fill="#c8281a" />
<line x1="279.25" y1="582.80" x2="279.25" y2="579.27" stroke="#333" stroke-width="0.5" />
<rect x="280.50" y="494.60" width="2.50" height="147.00" fill="#50d838" />
<line x1="281.75" y1="494.60" x2="281.75" y2="485.78" stroke="#333" stroke-width="0.5" />
<rect x="283.00" y="531.84" width="2.50" height="109.76" fill="#eca090" />
<line x1="284.25" y1="531.84" x2="284.25" y2="525.25" stroke="#333" stroke-width="0.5" />
<rect x="287.15" y="623.96" width="2.50" height="17.64" fill="#1a6a10" />
<line x1="288.40" y1="623.96" x2="288.40" y2="622.76" stroke="#333" stroke-width="0.5" />
<rect x="289.65" y="625.92" width="2.50" height="15.68" fill="#c8281a" />
<line x1="290.90" y1="625.92" x2="290.90" y2="624.72" stroke="#333" stroke-width="0.5" />
<rect x="292.15" y="623.96" width="2.50" height="17.64" fill="#50d838" />
<line x1="293.40" y1="623.96" x2="293.40" y2="622.76" stroke="#333" stroke-width="0.5" />
<rect x="294.65" y="622.00" width="2.50" height="19.60" fill="#eca090" />
<line x1="295.90" y1="622.00" x2="295.90" y2="620.80" stroke="#333" stroke-width="0.5" />
<rect x="298.80" y="635.72" width="2.50" height="5.88" fill="#1a6a10" />
<line x1="300.05" y1="635.72" x2="300.05" y2="634.52" stroke="#333" stroke-width="0.5" />
<rect x="301.30" y="635.72" width="2.50" height="5.88" fill="#c8281a" />
<line x1="302.55" y1="635.72" x2="302.55" y2="634.52" stroke="#333" stroke-width="0.5" />
<rect x="303.80" y="637.68" width="2.50" height="3.92" fill="#50d838" />
<line x1="305.05" y1="637.68" x2="305.05" y2="636.48" stroke="#333" stroke-width="0.5" />
<rect x="306.30" y="637.68" width="2.50" height="3.92" fill="#eca090" />
<line x1="307.55" y1="637.68" x2="307.55" y2="636.48" stroke="#333" stroke-width="0.5" />
<rect x="310.45" y="640.42" width="2.50" height="1.18" fill="#1a6a10" />
<line x1="311.70" y1="640.42" x2="311.70" y2="639.22" stroke="#333" stroke-width="0.5" />
<rect x="312.95" y="640.42" width="2.50" height="1.18" fill="#c8281a" />
<line x1="314.20" y1="640.42" x2="314.20" y2="639.22" stroke="#333" stroke-width="0.5" />
<rect x="315.45" y="640.42" width="2.50" height="1.18" fill="#50d838" />
<line x1="316.70" y1="640.42" x2="316.70" y2="639.22" stroke="#333" stroke-width="0.5" />
<rect x="317.95" y="640.42" width="2.50" height="1.18" fill="#eca090" />
<line x1="319.20" y1="640.42" x2="319.20" y2="639.22" stroke="#333" stroke-width="0.5" />
<text transform="translate(49.3,649) rotate(-50)" font-size="5.8" fill="#555" text-anchor="end">14:0/16:0</text>
<text transform="translate(60.9,649) rotate(-50)" font-size="5.8" fill="#555" text-anchor="end">14:0/16:1</text>
<text transform="translate(72.6,649) rotate(-50)" font-size="5.8" fill="#555" text-anchor="end">14:0/16:2</text>
<text transform="translate(84.2,649) rotate(-50)" font-size="5.8" fill="#555" text-anchor="end">14:0/16:3</text>
<text transform="translate(95.9,649) rotate(-50)" font-size="5.8" fill="#555" text-anchor="end">16:0/16:0</text>
<text transform="translate(107.5,649) rotate(-50)" font-size="5.8" fill="#555" text-anchor="end">16:0/16:0</text>
<text transform="translate(119.2,649) rotate(-50)" font-size="5.8" fill="#555" text-anchor="end">16:1/16:0</text>
<text transform="translate(130.9,649) rotate(-50)" font-size="5.8" fill="#555" text-anchor="end">16:1/16:1</text>
<text transform="translate(142.5,649) rotate(-50)" font-size="5.8" fill="#555" text-anchor="end">16:1/16:2</text>
<text transform="translate(154.2,649) rotate(-50)" font-size="5.8" fill="#555" text-anchor="end">16:1/16:3</text>
<text transform="translate(165.8,649) rotate(-50)" font-size="5.8" fill="#555" text-anchor="end">16:1/18:0;16:0/18:1</text>
<text transform="translate(177.5,649) rotate(-50)" font-size="5.8" fill="#555" text-anchor="end">16:1/18:1</text>
<text transform="translate(189.1,649) rotate(-50)" font-size="5.8" fill="#555" text-anchor="end">16:2/16:3</text>
<text transform="translate(200.8,649) rotate(-50)" font-size="5.8" fill="#555" text-anchor="end">16:3/16:3</text>
<text transform="translate(212.4,649) rotate(-50)" font-size="5.8" fill="#555" text-anchor="end">16:4/16:3</text>
<text transform="translate(224.1,649) rotate(-50)" font-size="5.8" fill="#555" text-anchor="end">18:0/16:3</text>
<text transform="translate(235.7,649) rotate(-50)" font-size="5.8" fill="#555" text-anchor="end">18:1/16:3</text>
<text transform="translate(247.4,649) rotate(-50)" font-size="5.8" fill="#555" text-anchor="end">20:5/16:0</text>
<text transform="translate(259.0,649) rotate(-50)" font-size="5.8" fill="#555" text-anchor="end">20:5/16:1</text>
<text transform="translate(270.7,649) rotate(-50)" font-size="5.8" fill="#555" text-anchor="end">20:5/16:2</text>
<text transform="translate(282.3,649) rotate(-50)" font-size="5.8" fill="#555" text-anchor="end">20:5/16:3</text>
<text transform="translate(293.9,649) rotate(-50)" font-size="5.8" fill="#555" text-anchor="end">20:5/16:4</text>
<text transform="translate(305.6,649) rotate(-50)" font-size="5.8" fill="#555" text-anchor="end">20:5/18:1</text>
<text transform="translate(317.2,649) rotate(-50)" font-size="5.8" fill="#555" text-anchor="end">20:5/18:2</text>
<rect x="169.60" y="490.60" width="8.70" height="6.40" fill="#126e12" />
<text x="181.7" y="497.0" font-size="8.3" fill="#333" text-anchor="start" font-weight="normal" >WT-6d</text>
<rect x="169.60" y="502.60" width="8.70" height="6.40" fill="#e0241a" />
<text x="181.7" y="509.0" font-size="8.3" fill="#333" text-anchor="start" font-weight="normal" >PtLPCAT1_KO-6d</text>
<rect x="169.60" y="515.20" width="8.70" height="6.40" fill="#3ee030" />
<text x="181.7" y="521.6" font-size="8.3" fill="#333" text-anchor="start" font-weight="normal" >WT-9d</text>
<rect x="169.60" y="527.40" width="8.70" height="6.40" fill="#f09088" />
<text x="181.7" y="533.8" font-size="8.3" fill="#333" text-anchor="start" font-weight="normal" >PtLPCAT1_KO-9d</text>
<circle cx="47.1" cy="629.8" r="0.95" fill="#444"/>
<circle cx="47.1" cy="625.6" r="0.95" fill="#444"/>
<circle cx="51.2" cy="635.5" r="0.95" fill="#444"/>
<circle cx="51.2" cy="631.3" r="0.95" fill="#444"/>
<circle cx="59.1" cy="616.7" r="0.95" fill="#444"/>
<circle cx="59.1" cy="612.5" r="0.95" fill="#444"/>
<circle cx="59.1" cy="608.3" r="0.95" fill="#444"/>
<circle cx="59.1" cy="604.1" r="0.95" fill="#444"/>
<circle cx="70.2" cy="636.0" r="0.95" fill="#444"/>
<circle cx="70.2" cy="631.8" r="0.95" fill="#444"/>
<circle cx="94.0" cy="608.0" r="0.95" fill="#444"/>
<circle cx="94.0" cy="603.8" r="0.95" fill="#444"/>
<circle cx="94.0" cy="599.6" r="0.95" fill="#444"/>
<circle cx="94.0" cy="595.4" r="0.95" fill="#444"/>
<circle cx="100.0" cy="618.0" r="0.95" fill="#444"/>
<circle cx="100.0" cy="613.8" r="0.95" fill="#444"/>
<circle cx="100.0" cy="609.6" r="0.95" fill="#444"/>
<circle cx="100.0" cy="605.4" r="0.95" fill="#444"/>
<circle cx="117.4" cy="551.5" r="0.95" fill="#444"/>
<circle cx="117.4" cy="547.3" r="0.95" fill="#444"/>
<circle cx="117.4" cy="543.1" r="0.95" fill="#444"/>
<circle cx="117.4" cy="538.9" r="0.95" fill="#444"/>
<circle cx="121.2" cy="597.0" r="0.95" fill="#444"/>
<circle cx="121.2" cy="592.8" r="0.95" fill="#444"/>
<circle cx="128.4" cy="605.0" r="0.95" fill="#444"/>
<circle cx="128.4" cy="600.8" r="0.95" fill="#444"/>
<circle cx="133.0" cy="605.0" r="0.95" fill="#444"/>
<circle cx="133.0" cy="600.8" r="0.95" fill="#444"/>
<circle cx="133.0" cy="596.6" r="0.95" fill="#444"/>
<circle cx="133.0" cy="592.4" r="0.95" fill="#444"/>
<circle cx="145.0" cy="624.6" r="0.95" fill="#444"/>
<circle cx="156.0" cy="611.0" r="0.95" fill="#444"/>
<circle cx="156.0" cy="606.8" r="0.95" fill="#444"/>
<circle cx="156.0" cy="602.6" r="0.95" fill="#444"/>
<circle cx="156.0" cy="598.4" r="0.95" fill="#444"/>
<circle cx="163.7" cy="634.0" r="0.95" fill="#444"/>
<circle cx="163.7" cy="629.8" r="0.95" fill="#444"/>
<circle cx="175.0" cy="634.0" r="0.95" fill="#444"/>
<circle cx="175.0" cy="629.8" r="0.95" fill="#444"/>
<circle cx="187.3" cy="616.0" r="0.95" fill="#444"/>
<circle cx="187.3" cy="611.8" r="0.95" fill="#444"/>
<circle cx="187.3" cy="607.6" r="0.95" fill="#444"/>
<circle cx="187.3" cy="603.4" r="0.95" fill="#444"/>
<circle cx="222.0" cy="636.0" r="0.95" fill="#444"/>
<circle cx="233.8" cy="629.8" r="0.95" fill="#444"/>
<circle cx="233.8" cy="625.6" r="0.95" fill="#444"/>
<circle cx="237.6" cy="629.8" r="0.95" fill="#444"/>
<circle cx="237.6" cy="625.6" r="0.95" fill="#444"/>
<circle cx="245.4" cy="628.0" r="0.95" fill="#444"/>
<circle cx="245.4" cy="623.8" r="0.95" fill="#444"/>
<circle cx="249.6" cy="627.8" r="0.95" fill="#444"/>
<circle cx="257.0" cy="618.0" r="0.95" fill="#444"/>
<circle cx="257.0" cy="613.8" r="0.95" fill="#444"/>
<circle cx="257.0" cy="609.6" r="0.95" fill="#444"/>
<circle cx="257.0" cy="605.4" r="0.95" fill="#444"/>
<circle cx="261.2" cy="617.0" r="0.95" fill="#444"/>
<circle cx="268.2" cy="590.7" r="0.95" fill="#444"/>
<circle cx="268.2" cy="586.5" r="0.95" fill="#444"/>
<circle cx="268.2" cy="582.3" r="0.95" fill="#444"/>
<circle cx="273.9" cy="590.7" r="0.95" fill="#444"/>
<circle cx="273.9" cy="586.5" r="0.95" fill="#444"/>
<circle cx="273.9" cy="582.3" r="0.95" fill="#444"/>
<circle cx="280.2" cy="516.0" r="0.95" fill="#444"/>
<circle cx="280.2" cy="511.8" r="0.95" fill="#444"/>
<circle cx="280.2" cy="507.6" r="0.95" fill="#444"/>
<circle cx="280.2" cy="503.4" r="0.95" fill="#444"/>
<circle cx="283.4" cy="516.0" r="0.95" fill="#444"/>
<circle cx="283.4" cy="511.8" r="0.95" fill="#444"/>
<circle cx="283.4" cy="507.6" r="0.95" fill="#444"/>
<circle cx="283.4" cy="503.4" r="0.95" fill="#444"/>
<circle cx="296.0" cy="617.5" r="0.95" fill="#444"/>
<circle cx="296.0" cy="613.3" r="0.95" fill="#444"/>
<circle cx="308.0" cy="632.4" r="0.95" fill="#444"/>
<circle cx="308.0" cy="628.2" r="0.95" fill="#444"/>
<circle cx="308.0" cy="624.0" r="0.95" fill="#444"/>
<circle cx="315.7" cy="637.8" r="0.95" fill="#444"/>
<circle cx="315.7" cy="633.6" r="0.95" fill="#444"/>
<circle cx="315.7" cy="629.4" r="0.95" fill="#444"/>
<circle cx="315.7" cy="625.2" r="0.95" fill="#444"/>
<circle cx="320.4" cy="637.3" r="0.95" fill="#444"/>
<text x="332.6" y="488.6" font-size="13.6" fill="#3a3a3a" text-anchor="start" font-weight="normal" stroke="#3a3a3a" stroke-width="0.55">(n)</text>
<line x1="365.20" y1="484.60" x2="644.70" y2="484.60" stroke="#aaa" stroke-width="1.1" />
<line x1="644.70" y1="484.60" x2="644.70" y2="641.60" stroke="#aaa" stroke-width="1.1" />
<line x1="365.20" y1="484.60" x2="365.20" y2="641.60" stroke="#9a9a9a" stroke-width="1.4" />
<line x1="365.20" y1="641.60" x2="644.70" y2="641.60" stroke="#9a9a9a" stroke-width="1.4" />
<line x1="363.20" y1="641.60" x2="365.20" y2="641.60" stroke="#777" stroke-width="0.7" />
<text x="362.7" y="643.6" font-size="5.7" fill="#444" text-anchor="end" font-weight="normal" >0</text>
<line x1="363.20" y1="602.40" x2="365.20" y2="602.40" stroke="#777" stroke-width="0.7" />
<text x="362.7" y="604.4" font-size="5.7" fill="#444" text-anchor="end" font-weight="normal" >10</text>
<line x1="363.20" y1="563.20" x2="365.20" y2="563.20" stroke="#777" stroke-width="0.7" />
<text x="362.7" y="565.2" font-size="5.7" fill="#444" text-anchor="end" font-weight="normal" >20</text>
<line x1="363.20" y1="524.00" x2="365.20" y2="524.00" stroke="#777" stroke-width="0.7" />
<text x="362.7" y="526.0" font-size="5.7" fill="#444" text-anchor="end" font-weight="normal" >30</text>
<line x1="363.20" y1="484.80" x2="365.20" y2="484.80" stroke="#777" stroke-width="0.7" />
<text x="362.7" y="486.8" font-size="5.7" fill="#444" text-anchor="end" font-weight="normal" >40</text>
<text transform="translate(352,563) rotate(-90)" font-size="10.5" fill="#333" text-anchor="middle">Mol %</text>
<text x="382.6" y="497.8" font-size="8.3" fill="#222" text-anchor="start" font-weight="bold" >DGDG</text>
<rect x="375.30" y="623.96" width="5.20" height="17.64" fill="#126e12" />
<line x1="377.90" y1="623.96" x2="377.90" y2="622.76" stroke="#333" stroke-width="0.5" />
<rect x="380.50" y="612.20" width="5.20" height="29.40" fill="#e0241a" />
<line x1="383.10" y1="612.20" x2="383.10" y2="610.44" stroke="#333" stroke-width="0.5" />
<rect x="385.70" y="629.06" width="5.20" height="12.54" fill="#3ee030" />
<line x1="388.30" y1="629.06" x2="388.30" y2="627.86" stroke="#333" stroke-width="0.5" />
<rect x="390.90" y="625.92" width="5.20" height="15.68" fill="#f09088" />
<line x1="393.50" y1="625.92" x2="393.50" y2="624.72" stroke="#333" stroke-width="0.5" />
<rect x="406.05" y="607.50" width="5.20" height="34.10" fill="#126e12" />
<line x1="408.65" y1="607.50" x2="408.65" y2="605.45" stroke="#333" stroke-width="0.5" />
<rect x="411.25" y="583.58" width="5.20" height="58.02" fill="#e0241a" />
<line x1="413.85" y1="583.58" x2="413.85" y2="580.10" stroke="#333" stroke-width="0.5" />
<rect x="416.45" y="606.32" width="5.20" height="35.28" fill="#3ee030" />
<line x1="419.05" y1="606.32" x2="419.05" y2="604.20" stroke="#333" stroke-width="0.5" />
<rect x="421.65" y="603.18" width="5.20" height="38.42" fill="#f09088" />
<line x1="424.25" y1="603.18" x2="424.25" y2="600.88" stroke="#333" stroke-width="0.5" />
<rect x="436.80" y="574.96" width="5.20" height="66.64" fill="#126e12" />
<line x1="439.40" y1="574.96" x2="439.40" y2="570.96" stroke="#333" stroke-width="0.5" />
<rect x="442.00" y="545.56" width="5.20" height="96.04" fill="#e0241a" />
<line x1="444.60" y1="545.56" x2="444.60" y2="539.80" stroke="#333" stroke-width="0.5" />
<rect x="447.20" y="570.26" width="5.20" height="71.34" fill="#3ee030" />
<line x1="449.80" y1="570.26" x2="449.80" y2="565.98" stroke="#333" stroke-width="0.5" />
<rect x="452.40" y="565.16" width="5.20" height="76.44" fill="#f09088" />
<line x1="455.00" y1="565.16" x2="455.00" y2="560.57" stroke="#333" stroke-width="0.5" />
<rect x="467.55" y="606.32" width="5.20" height="35.28" fill="#126e12" />
<line x1="470.15" y1="606.32" x2="470.15" y2="604.20" stroke="#333" stroke-width="0.5" />
<rect x="472.75" y="598.48" width="5.20" height="43.12" fill="#e0241a" />
<line x1="475.35" y1="598.48" x2="475.35" y2="595.89" stroke="#333" stroke-width="0.5" />
<rect x="477.95" y="596.52" width="5.20" height="45.08" fill="#3ee030" />
<line x1="480.55" y1="596.52" x2="480.55" y2="593.82" stroke="#333" stroke-width="0.5" />
<rect x="483.15" y="592.60" width="5.20" height="49.00" fill="#f09088" />
<line x1="485.75" y1="592.60" x2="485.75" y2="589.66" stroke="#333" stroke-width="0.5" />
<rect x="498.30" y="638.46" width="5.20" height="3.14" fill="#126e12" />
<line x1="500.90" y1="638.46" x2="500.90" y2="637.26" stroke="#333" stroke-width="0.5" />
<rect x="503.50" y="637.68" width="5.20" height="3.92" fill="#e0241a" />
<line x1="506.10" y1="637.68" x2="506.10" y2="636.48" stroke="#333" stroke-width="0.5" />
<rect x="508.70" y="640.03" width="5.20" height="1.57" fill="#3ee030" />
<line x1="511.30" y1="640.03" x2="511.30" y2="638.83" stroke="#333" stroke-width="0.5" />
<rect x="513.90" y="639.64" width="5.20" height="1.96" fill="#f09088" />
<line x1="516.50" y1="639.64" x2="516.50" y2="638.44" stroke="#333" stroke-width="0.5" />
<rect x="529.05" y="573.78" width="5.20" height="67.82" fill="#126e12" />
<line x1="531.65" y1="573.78" x2="531.65" y2="569.72" stroke="#333" stroke-width="0.5" />
<rect x="534.25" y="594.56" width="5.20" height="47.04" fill="#e0241a" />
<line x1="536.85" y1="594.56" x2="536.85" y2="591.74" stroke="#333" stroke-width="0.5" />
<rect x="539.45" y="569.08" width="5.20" height="72.52" fill="#3ee030" />
<line x1="542.05" y1="569.08" x2="542.05" y2="564.73" stroke="#333" stroke-width="0.5" />
<rect x="544.65" y="580.84" width="5.20" height="60.76" fill="#f09088" />
<line x1="547.25" y1="580.84" x2="547.25" y2="577.19" stroke="#333" stroke-width="0.5" />
<rect x="559.80" y="520.08" width="5.20" height="121.52" fill="#126e12" />
<line x1="562.40" y1="520.08" x2="562.40" y2="512.79" stroke="#333" stroke-width="0.5" />
<rect x="565.00" y="561.24" width="5.20" height="80.36" fill="#e0241a" />
<line x1="567.60" y1="561.24" x2="567.60" y2="556.42" stroke="#333" stroke-width="0.5" />
<rect x="570.20" y="518.90" width="5.20" height="122.70" fill="#3ee030" />
<line x1="572.80" y1="518.90" x2="572.80" y2="511.54" stroke="#333" stroke-width="0.5" />
<rect x="575.40" y="531.84" width="5.20" height="109.76" fill="#f09088" />
<line x1="578.00" y1="531.84" x2="578.00" y2="525.25" stroke="#333" stroke-width="0.5" />
<rect x="590.55" y="607.10" width="5.20" height="34.50" fill="#126e12" />
<line x1="593.15" y1="607.10" x2="593.15" y2="605.03" stroke="#333" stroke-width="0.5" />
<rect x="595.75" y="618.86" width="5.20" height="22.74" fill="#e0241a" />
<line x1="598.35" y1="618.86" x2="598.35" y2="617.50" stroke="#333" stroke-width="0.5" />
<rect x="600.95" y="618.08" width="5.20" height="23.52" fill="#3ee030" />
<line x1="603.55" y1="618.08" x2="603.55" y2="616.67" stroke="#333" stroke-width="0.5" />
<rect x="606.15" y="614.94" width="5.20" height="26.66" fill="#f09088" />
<line x1="608.75" y1="614.94" x2="608.75" y2="613.34" stroke="#333" stroke-width="0.5" />
<rect x="621.30" y="632.58" width="5.20" height="9.02" fill="#126e12" />
<line x1="623.90" y1="632.58" x2="623.90" y2="631.38" stroke="#333" stroke-width="0.5" />
<rect x="626.50" y="634.54" width="5.20" height="7.06" fill="#e0241a" />
<line x1="629.10" y1="634.54" x2="629.10" y2="633.34" stroke="#333" stroke-width="0.5" />
<rect x="631.70" y="633.76" width="5.20" height="7.84" fill="#3ee030" />
<line x1="634.30" y1="633.76" x2="634.30" y2="632.56" stroke="#333" stroke-width="0.5" />
<rect x="636.90" y="632.19" width="5.20" height="9.41" fill="#f09088" />
<line x1="639.50" y1="632.19" x2="639.50" y2="630.99" stroke="#333" stroke-width="0.5" />
<text x="385.7" y="652.3" font-size="5.7" fill="#555" text-anchor="middle" font-weight="normal" >14:0/16:1</text>
<text x="416.4" y="652.3" font-size="5.7" fill="#555" text-anchor="middle" font-weight="normal" >16:0/16:0</text>
<text x="447.2" y="652.3" font-size="5.7" fill="#555" text-anchor="middle" font-weight="normal" >16:1/16:0</text>
<text x="477.9" y="652.3" font-size="5.7" fill="#555" text-anchor="middle" font-weight="normal" >16:1/16:1</text>
<text x="508.7" y="652.3" font-size="5.7" fill="#555" text-anchor="middle" font-weight="normal" >16:1/18:2</text>
<text x="539.5" y="652.3" font-size="5.7" fill="#555" text-anchor="middle" font-weight="normal" >20:5/16:0</text>
<text x="570.2" y="652.3" font-size="5.7" fill="#555" text-anchor="middle" font-weight="normal" >20:5/16:1</text>
<text x="601.0" y="652.3" font-size="5.7" fill="#555" text-anchor="middle" font-weight="normal" >20:5/16:2</text>
<text x="631.7" y="652.3" font-size="5.7" fill="#555" text-anchor="middle" font-weight="normal" >20:5/16:3</text>
<rect x="475.50" y="491.70" width="8.70" height="6.60" fill="#126e12" />
<text x="487.5" y="498.3" font-size="8.3" fill="#333" text-anchor="start" font-weight="normal" >WT-6d</text>
<rect x="475.50" y="504.00" width="8.70" height="6.60" fill="#e0241a" />
<text x="487.5" y="510.6" font-size="8.3" fill="#333" text-anchor="start" font-weight="normal" >PtLPCAT1_KO-6d</text>
<rect x="475.50" y="516.00" width="8.70" height="6.60" fill="#3ee030" />
<text x="487.5" y="522.6" font-size="8.3" fill="#333" text-anchor="start" font-weight="normal" >WT-9d</text>
<rect x="475.50" y="528.30" width="8.70" height="6.60" fill="#f09088" />
<text x="487.5" y="534.9" font-size="8.3" fill="#333" text-anchor="start" font-weight="normal" >PtLPCAT1_KO-9d</text>
<circle cx="383.3" cy="608.5" r="0.95" fill="#444"/>
<circle cx="383.3" cy="604.3" r="0.95" fill="#444"/>
<circle cx="383.3" cy="600.1" r="0.95" fill="#444"/>
<circle cx="383.3" cy="595.9" r="0.95" fill="#444"/>
<circle cx="393.6" cy="625.0" r="0.95" fill="#444"/>
<circle cx="393.6" cy="620.8" r="0.95" fill="#444"/>
<circle cx="393.6" cy="616.6" r="0.95" fill="#444"/>
<circle cx="413.3" cy="578.5" r="0.95" fill="#444"/>
<circle cx="413.3" cy="574.3" r="0.95" fill="#444"/>
<circle cx="413.3" cy="570.1" r="0.95" fill="#444"/>
<circle cx="413.3" cy="565.9" r="0.95" fill="#444"/>
<circle cx="424.4" cy="600.6" r="0.95" fill="#444"/>
<circle cx="444.9" cy="543.8" r="0.95" fill="#444"/>
<circle cx="444.9" cy="539.6" r="0.95" fill="#444"/>
<circle cx="444.9" cy="535.4" r="0.95" fill="#444"/>
<circle cx="444.9" cy="531.2" r="0.95" fill="#444"/>
<circle cx="444.9" cy="527.0" r="0.95" fill="#444"/>
<circle cx="455.0" cy="561.0" r="0.95" fill="#444"/>
<circle cx="475.6" cy="591.8" r="0.95" fill="#444"/>
<circle cx="475.6" cy="587.6" r="0.95" fill="#444"/>
<circle cx="481.3" cy="594.0" r="0.95" fill="#444"/>
<circle cx="486.4" cy="592.0" r="0.95" fill="#444"/>
<circle cx="506.4" cy="635.0" r="0.95" fill="#444"/>
<circle cx="517.2" cy="636.0" r="0.95" fill="#444"/>
<circle cx="517.2" cy="631.8" r="0.95" fill="#444"/>
<circle cx="537.0" cy="570.0" r="0.95" fill="#444"/>
<circle cx="537.0" cy="565.8" r="0.95" fill="#444"/>
<circle cx="537.0" cy="561.6" r="0.95" fill="#444"/>
<circle cx="537.0" cy="557.4" r="0.95" fill="#444"/>
<circle cx="548.0" cy="565.0" r="0.95" fill="#444"/>
<circle cx="548.0" cy="560.8" r="0.95" fill="#444"/>
<circle cx="567.8" cy="513.8" r="0.95" fill="#444"/>
<circle cx="567.8" cy="509.6" r="0.95" fill="#444"/>
<circle cx="567.8" cy="505.4" r="0.95" fill="#444"/>
<circle cx="567.8" cy="501.2" r="0.95" fill="#444"/>
<circle cx="579.2" cy="514.3" r="0.95" fill="#444"/>
<circle cx="579.2" cy="526.0" r="0.95" fill="#444"/>
<circle cx="598.0" cy="601.3" r="0.95" fill="#444"/>
<circle cx="598.0" cy="597.1" r="0.95" fill="#444"/>
<circle cx="629.5" cy="629.0" r="0.95" fill="#444"/>
<circle cx="629.5" cy="624.8" r="0.95" fill="#444"/>
<text x="3.5" y="705.0" font-size="13.6" fill="#3a3a3a" text-anchor="start" font-weight="normal" stroke="#3a3a3a" stroke-width="0.55">(o)</text>
<text x="59.0" y="730.0" font-size="8.7" fill="#333" text-anchor="end" font-weight="normal" >P0 strain</text>
<line x1="62.00" y1="727.00" x2="419.00" y2="727.00" stroke="#111" stroke-width="2.4" />
<path d="M65.6,727.0 V715.5 H76.1" fill="none" stroke="#222" stroke-width="0.9"/>
<path d="M79.6,715.5 L75.1,713.4 L75.1,717.6 Z" fill="#222"/>
<text x="66.4" y="712.0" font-size="7" fill="#444">P</text>
<text x="70.9" y="712.6" font-size="5" fill="#444" textLength="16.5" lengthAdjust="spacingAndGlyphs">TEFin</text>
<rect x="71.6" y="720.8" width="42.1" height="11.8" rx="1.2" fill="#5a9e30" stroke="#2a2a2a" stroke-width="1"/>
<text x="92.7" y="729.5" font-size="7" fill="#d6f2c0" text-anchor="middle" font-weight="normal" >C16/18-elo</text>
<path d="M119.1,727.0 V715.5 H129.6" fill="none" stroke="#222" stroke-width="0.9"/>
<path d="M133.1,715.5 L128.6,713.4 L128.6,717.6 Z" fill="#222"/>
<text x="119.9" y="712.0" font-size="7" fill="#444">P</text>
<text x="124.4" y="712.6" font-size="5" fill="#444" textLength="12.5" lengthAdjust="spacingAndGlyphs">GPD</text>
<rect x="125.1" y="720.8" width="33.6" height="11.8" rx="1.2" fill="#3a88cc" stroke="#2a2a2a" stroke-width="1"/>
<text x="141.9" y="729.5" font-size="7" fill="#d6ecff" text-anchor="middle" font-weight="normal" >Δ12-des</text>
<path d="M164.3,727.0 V715.5 H174.8" fill="none" stroke="#222" stroke-width="0.9"/>
<path d="M178.3,715.5 L173.8,713.4 L173.8,717.6 Z" fill="#222"/>
<text x="165.1" y="712.0" font-size="7" fill="#444">P</text>
<text x="169.6" y="712.6" font-size="5" fill="#444" textLength="16.5" lengthAdjust="spacingAndGlyphs">TEFin</text>
<rect x="170.3" y="720.8" width="31.3" height="11.8" rx="1.2" fill="#f0a020" stroke="#2a2a2a" stroke-width="1"/>
<text x="185.9" y="729.5" font-size="7" fill="#5a3a00" text-anchor="middle" font-weight="normal" >Δ9-elo</text>
<path d="M202.8,727.0 V715.5 H213.3" fill="none" stroke="#222" stroke-width="0.9"/>
<path d="M216.8,715.5 L212.3,713.4 L212.3,717.6 Z" fill="#222"/>
<text x="203.6" y="712.0" font-size="7" fill="#444">P</text>
<text x="208.1" y="712.6" font-size="5" fill="#444" textLength="12.5" lengthAdjust="spacingAndGlyphs">GPD</text>
<rect x="208.8" y="720.8" width="32.7" height="11.8" rx="1.2" fill="#f2f020" stroke="#2a2a2a" stroke-width="1"/>
<text x="225.2" y="729.5" font-size="7" fill="#555500" text-anchor="middle" font-weight="normal" >Δ8-des</text>
<path d="M242.6,727.0 V715.5 H253.1" fill="none" stroke="#222" stroke-width="0.9"/>
<path d="M256.6,715.5 L252.1,713.4 L252.1,717.6 Z" fill="#222"/>
<text x="243.4" y="712.0" font-size="7" fill="#444">P</text>
<text x="247.9" y="712.6" font-size="5" fill="#444" textLength="16.5" lengthAdjust="spacingAndGlyphs">TEFin</text>
<rect x="248.6" y="720.8" width="30.7" height="11.8" rx="1.2" fill="#c6e4b0" stroke="#2a2a2a" stroke-width="1"/>
<text x="263.9" y="729.5" font-size="7" fill="#3a5a3a" text-anchor="middle" font-weight="normal" >Δ5-des</text>
<path d="M283.5,727.0 V715.5 H294.0" fill="none" stroke="#222" stroke-width="0.9"/>
<path d="M297.5,715.5 L293.0,713.4 L293.0,717.6 Z" fill="#222"/>
<text x="284.3" y="712.0" font-size="7" fill="#444">P</text>
<text x="288.8" y="712.6" font-size="5" fill="#444" textLength="12.5" lengthAdjust="spacingAndGlyphs">GPD</text>
<rect x="289.5" y="720.8" width="35.0" height="11.8" rx="1.2" fill="#d6d6d6" stroke="#2a2a2a" stroke-width="1"/>
<text x="307.0" y="729.5" font-size="7" fill="#444" text-anchor="middle" font-weight="normal" >Δ17-des</text>
<text x="59.0" y="767.0" font-size="8.7" fill="#333" text-anchor="end" font-weight="normal" >P1 strain</text>
<line x1="62.00" y1="764.00" x2="419.00" y2="764.00" stroke="#111" stroke-width="2.4" />
<path d="M65.6,764.0 V752.5 H76.1" fill="none" stroke="#222" stroke-width="0.9"/>
<path d="M79.6,752.5 L75.1,750.4 L75.1,754.6 Z" fill="#222"/>
<text x="66.4" y="749.0" font-size="7" fill="#444">P</text>
<text x="70.9" y="749.6" font-size="5" fill="#444" textLength="16.5" lengthAdjust="spacingAndGlyphs">TEFin</text>
<rect x="71.6" y="757.8" width="42.1" height="11.8" rx="1.2" fill="#5a9e30" stroke="#2a2a2a" stroke-width="1"/>
<text x="92.7" y="766.5" font-size="7" fill="#d6f2c0" text-anchor="middle" font-weight="normal" >C16/18-elo</text>
<path d="M119.1,764.0 V752.5 H129.6" fill="none" stroke="#222" stroke-width="0.9"/>
<path d="M133.1,752.5 L128.6,750.4 L128.6,754.6 Z" fill="#222"/>
<text x="119.9" y="749.0" font-size="7" fill="#444">P</text>
<text x="124.4" y="749.6" font-size="5" fill="#444" textLength="12.5" lengthAdjust="spacingAndGlyphs">GPD</text>
<rect x="125.1" y="757.8" width="33.6" height="11.8" rx="1.2" fill="#3a88cc" stroke="#2a2a2a" stroke-width="1"/>
<text x="141.9" y="766.5" font-size="7" fill="#d6ecff" text-anchor="middle" font-weight="normal" >Δ12-des</text>
<path d="M164.3,764.0 V752.5 H174.8" fill="none" stroke="#222" stroke-width="0.9"/>
<path d="M178.3,752.5 L173.8,750.4 L173.8,754.6 Z" fill="#222"/>
<text x="165.1" y="749.0" font-size="7" fill="#444">P</text>
<text x="169.6" y="749.6" font-size="5" fill="#444" textLength="16.5" lengthAdjust="spacingAndGlyphs">TEFin</text>
<rect x="170.3" y="757.8" width="31.3" height="11.8" rx="1.2" fill="#f0a020" stroke="#2a2a2a" stroke-width="1"/>
<text x="185.9" y="766.5" font-size="7" fill="#5a3a00" text-anchor="middle" font-weight="normal" >Δ9-elo</text>
<path d="M202.8,764.0 V752.5 H213.3" fill="none" stroke="#222" stroke-width="0.9"/>
<path d="M216.8,752.5 L212.3,750.4 L212.3,754.6 Z" fill="#222"/>
<text x="203.6" y="749.0" font-size="7" fill="#444">P</text>
<text x="208.1" y="749.6" font-size="5" fill="#444" textLength="12.5" lengthAdjust="spacingAndGlyphs">GPD</text>
<rect x="208.8" y="757.8" width="32.7" height="11.8" rx="1.2" fill="#f2f020" stroke="#2a2a2a" stroke-width="1"/>
<text x="225.2" y="766.5" font-size="7" fill="#555500" text-anchor="middle" font-weight="normal" >Δ8-des</text>
<path d="M242.6,764.0 V752.5 H253.1" fill="none" stroke="#222" stroke-width="0.9"/>
<path d="M256.6,752.5 L252.1,750.4 L252.1,754.6 Z" fill="#222"/>
<text x="243.4" y="749.0" font-size="7" fill="#444">P</text>
<text x="247.9" y="749.6" font-size="5" fill="#444" textLength="16.5" lengthAdjust="spacingAndGlyphs">TEFin</text>
<rect x="248.6" y="757.8" width="30.7" height="11.8" rx="1.2" fill="#c6e4b0" stroke="#2a2a2a" stroke-width="1"/>
<text x="263.9" y="766.5" font-size="7" fill="#3a5a3a" text-anchor="middle" font-weight="normal" >Δ5-des</text>
<path d="M283.5,764.0 V752.5 H294.0" fill="none" stroke="#222" stroke-width="0.9"/>
<path d="M297.5,752.5 L293.0,750.4 L293.0,754.6 Z" fill="#222"/>
<text x="284.3" y="749.0" font-size="7" fill="#444">P</text>
<text x="288.8" y="749.6" font-size="5" fill="#444" textLength="12.5" lengthAdjust="spacingAndGlyphs">GPD</text>
<rect x="289.5" y="757.8" width="35.0" height="11.8" rx="1.2" fill="#d6d6d6" stroke="#2a2a2a" stroke-width="1"/>
<text x="307.0" y="766.5" font-size="7" fill="#444" text-anchor="middle" font-weight="normal" >Δ17-des</text>
<path d="M334.4,764.0 V752.5 H344.9" fill="none" stroke="#222" stroke-width="0.9"/>
<path d="M348.4,752.5 L343.9,750.4 L343.9,754.6 Z" fill="#222"/>
<text x="335.2" y="749.0" font-size="7" fill="#444">P</text>
<text x="339.7" y="749.6" font-size="5" fill="#444" textLength="16.5" lengthAdjust="spacingAndGlyphs">TEFin</text>
<rect x="340" y="758.0" width="30" height="11.5" rx="1.2" fill="#f5efc6" stroke="#2a2a2a" stroke-width="1"/>
<text x="355.0" y="766.6" font-size="7.3" fill="#333" text-anchor="middle" font-weight="normal" >LPCAT</text>
<text x="59.0" y="804.2" font-size="8.7" fill="#333" text-anchor="end" font-weight="normal" >P2 strain</text>
<line x1="62.00" y1="801.20" x2="419.00" y2="801.20" stroke="#111" stroke-width="2.4" />
<path d="M65.6,801.2 V789.7 H76.1" fill="none" stroke="#222" stroke-width="0.9"/>
<path d="M79.6,789.7 L75.1,787.6 L75.1,791.8 Z" fill="#222"/>
<text x="66.4" y="786.2" font-size="7" fill="#444">P</text>
<text x="70.9" y="786.8" font-size="5" fill="#444" textLength="16.5" lengthAdjust="spacingAndGlyphs">TEFin</text>
<rect x="71.6" y="795.0" width="42.1" height="11.8" rx="1.2" fill="#5a9e30" stroke="#2a2a2a" stroke-width="1"/>
<text x="92.7" y="803.7" font-size="7" fill="#d6f2c0" text-anchor="middle" font-weight="normal" >C16/18-elo</text>
<path d="M119.1,801.2 V789.7 H129.6" fill="none" stroke="#222" stroke-width="0.9"/>
<path d="M133.1,789.7 L128.6,787.6 L128.6,791.8 Z" fill="#222"/>
<text x="119.9" y="786.2" font-size="7" fill="#444">P</text>
<text x="124.4" y="786.8" font-size="5" fill="#444" textLength="12.5" lengthAdjust="spacingAndGlyphs">GPD</text>
<rect x="125.1" y="795.0" width="33.6" height="11.8" rx="1.2" fill="#3a88cc" stroke="#2a2a2a" stroke-width="1"/>
<text x="141.9" y="803.7" font-size="7" fill="#d6ecff" text-anchor="middle" font-weight="normal" >Δ12-des</text>
<path d="M164.3,801.2 V789.7 H174.8" fill="none" stroke="#222" stroke-width="0.9"/>
<path d="M178.3,789.7 L173.8,787.6 L173.8,791.8 Z" fill="#222"/>
<text x="165.1" y="786.2" font-size="7" fill="#444">P</text>
<text x="169.6" y="786.8" font-size="5" fill="#444" textLength="16.5" lengthAdjust="spacingAndGlyphs">TEFin</text>
<rect x="170.3" y="795.0" width="31.3" height="11.8" rx="1.2" fill="#f0a020" stroke="#2a2a2a" stroke-width="1"/>
<text x="185.9" y="803.7" font-size="7" fill="#5a3a00" text-anchor="middle" font-weight="normal" >Δ9-elo</text>
<path d="M202.8,801.2 V789.7 H213.3" fill="none" stroke="#222" stroke-width="0.9"/>
<path d="M216.8,789.7 L212.3,787.6 L212.3,791.8 Z" fill="#222"/>
<text x="203.6" y="786.2" font-size="7" fill="#444">P</text>
<text x="208.1" y="786.8" font-size="5" fill="#444" textLength="12.5" lengthAdjust="spacingAndGlyphs">GPD</text>
<rect x="208.8" y="795.0" width="32.7" height="11.8" rx="1.2" fill="#f2f020" stroke="#2a2a2a" stroke-width="1"/>
<text x="225.2" y="803.7" font-size="7" fill="#555500" text-anchor="middle" font-weight="normal" >Δ8-des</text>
<path d="M242.6,801.2 V789.7 H253.1" fill="none" stroke="#222" stroke-width="0.9"/>
<path d="M256.6,789.7 L252.1,787.6 L252.1,791.8 Z" fill="#222"/>
<text x="243.4" y="786.2" font-size="7" fill="#444">P</text>
<text x="247.9" y="786.8" font-size="5" fill="#444" textLength="16.5" lengthAdjust="spacingAndGlyphs">TEFin</text>
<rect x="248.6" y="795.0" width="30.7" height="11.8" rx="1.2" fill="#c6e4b0" stroke="#2a2a2a" stroke-width="1"/>
<text x="263.9" y="803.7" font-size="7" fill="#3a5a3a" text-anchor="middle" font-weight="normal" >Δ5-des</text>
<path d="M283.5,801.2 V789.7 H294.0" fill="none" stroke="#222" stroke-width="0.9"/>
<path d="M297.5,789.7 L293.0,787.6 L293.0,791.8 Z" fill="#222"/>
<text x="284.3" y="786.2" font-size="7" fill="#444">P</text>
<text x="288.8" y="786.8" font-size="5" fill="#444" textLength="12.5" lengthAdjust="spacingAndGlyphs">GPD</text>
<rect x="289.5" y="795.0" width="35.0" height="11.8" rx="1.2" fill="#d6d6d6" stroke="#2a2a2a" stroke-width="1"/>
<text x="307.0" y="803.7" font-size="7" fill="#444" text-anchor="middle" font-weight="normal" >Δ17-des</text>
<path d="M334.4,801.2 V789.7 H344.9" fill="none" stroke="#222" stroke-width="0.9"/>
<path d="M348.4,789.7 L343.9,787.6 L343.9,791.8 Z" fill="#222"/>
<text x="335.2" y="786.2" font-size="7" fill="#444">P</text>
<text x="339.7" y="786.8" font-size="5" fill="#444" textLength="16.5" lengthAdjust="spacingAndGlyphs">TEFin</text>
<rect x="340" y="795.2" width="30" height="11.5" rx="1.2" fill="#f5efc6" stroke="#2a2a2a" stroke-width="1"/>
<text x="355.0" y="803.8" font-size="7.3" fill="#333" text-anchor="middle" font-weight="normal" >LPCAT</text>
<path d="M377.3,801.2 V789.7 H387.8" fill="none" stroke="#222" stroke-width="0.9"/>
<path d="M391.3,789.7 L386.8,787.6 L386.8,791.8 Z" fill="#222"/>
<text x="378.1" y="786.2" font-size="7" fill="#444">P</text>
<text x="382.6" y="786.8" font-size="5" fill="#444" textLength="12.5" lengthAdjust="spacingAndGlyphs">GPD</text>
<rect x="383.3" y="795.2" width="30.7" height="11.5" rx="1.2" fill="#f5efc6" stroke="#2a2a2a" stroke-width="1"/>
<text x="398.6" y="803.8" font-size="7.3" fill="#333" text-anchor="middle" font-weight="normal" >LPCAT</text>
<line x1="418.80" y1="712.80" x2="418.80" y2="819.20" stroke="#666" stroke-width="1.1" />
<line x1="418.80" y1="819.20" x2="553.00" y2="819.20" stroke="#666" stroke-width="1.1" />
<line x1="418.80" y1="819.20" x2="418.80" y2="821.50" stroke="#666" stroke-width="0.7" />
<text x="418.8" y="830.3" font-size="6.3" fill="#555" text-anchor="middle" font-weight="normal" >0</text>
<line x1="452.15" y1="819.20" x2="452.15" y2="821.50" stroke="#666" stroke-width="0.7" />
<text x="452.2" y="830.3" font-size="6.3" fill="#555" text-anchor="middle" font-weight="normal" >5</text>
<line x1="485.50" y1="819.20" x2="485.50" y2="821.50" stroke="#666" stroke-width="0.7" />
<text x="485.5" y="830.3" font-size="6.3" fill="#555" text-anchor="middle" font-weight="normal" >10</text>
<line x1="518.85" y1="819.20" x2="518.85" y2="821.50" stroke="#666" stroke-width="0.7" />
<text x="518.9" y="830.3" font-size="6.3" fill="#555" text-anchor="middle" font-weight="normal" >15</text>
<line x1="552.20" y1="819.20" x2="552.20" y2="821.50" stroke="#666" stroke-width="0.7" />
<text x="552.2" y="830.3" font-size="6.3" fill="#555" text-anchor="middle" font-weight="normal" >20</text>
<text x="488.7" y="841.0" font-size="9.4" fill="#333" text-anchor="middle" font-weight="normal" >Mol % of total fatty acids</text>
<rect x="419.00" y="716.70" width="50.02" height="5.10" fill="#c8621c" />
<circle cx="469.0" cy="719.2" r="1.5" fill="#c8621c"/>
<rect x="419.00" y="723.00" width="20.01" height="5.10" fill="#4a92e4" />
<circle cx="439.0" cy="725.5" r="1.5" fill="#4a92e4"/>
<line x1="439.01" y1="725.55" x2="440.34" y2="725.55" stroke="#333" stroke-width="0.6" />
<line x1="440.34" y1="724.30" x2="440.34" y2="726.80" stroke="#333" stroke-width="0.6" />
<rect x="419.00" y="729.50" width="13.34" height="5.10" fill="#96ea96" />
<circle cx="432.3" cy="732.0" r="1.5" fill="#96ea96"/>
<line x1="432.34" y1="732.05" x2="434.34" y2="732.05" stroke="#333" stroke-width="0.6" />
<line x1="434.34" y1="730.80" x2="434.34" y2="733.30" stroke="#333" stroke-width="0.6" />
<rect x="419.00" y="735.40" width="96.72" height="5.10" fill="#a2a2a2" />
<circle cx="515.7" cy="737.9" r="1.5" fill="#a2a2a2"/>
<line x1="515.72" y1="737.95" x2="521.05" y2="737.95" stroke="#333" stroke-width="0.6" />
<line x1="521.05" y1="736.70" x2="521.05" y2="739.20" stroke="#333" stroke-width="0.6" />
<rect x="419.00" y="753.80" width="80.04" height="5.10" fill="#c8621c" />
<circle cx="499.0" cy="756.3" r="1.5" fill="#c8621c"/>
<line x1="499.04" y1="756.35" x2="505.04" y2="756.35" stroke="#333" stroke-width="0.6" />
<line x1="505.04" y1="755.10" x2="505.04" y2="757.60" stroke="#333" stroke-width="0.6" />
<rect x="419.00" y="760.80" width="8.00" height="5.10" fill="#4a92e4" />
<circle cx="427.0" cy="763.3" r="1.5" fill="#4a92e4"/>
<line x1="427.00" y1="763.35" x2="428.34" y2="763.35" stroke="#333" stroke-width="0.6" />
<line x1="428.34" y1="762.10" x2="428.34" y2="764.60" stroke="#333" stroke-width="0.6" />
<rect x="419.00" y="767.00" width="8.00" height="5.10" fill="#96ea96" />
<circle cx="427.0" cy="769.5" r="1.5" fill="#96ea96"/>
<line x1="427.00" y1="769.55" x2="428.34" y2="769.55" stroke="#333" stroke-width="0.6" />
<line x1="428.34" y1="768.30" x2="428.34" y2="770.80" stroke="#333" stroke-width="0.6" />
<rect x="419.00" y="773.00" width="40.02" height="5.10" fill="#a2a2a2" />
<circle cx="459.0" cy="775.5" r="1.5" fill="#a2a2a2"/>
<line x1="459.02" y1="775.55" x2="461.69" y2="775.55" stroke="#333" stroke-width="0.6" />
<line x1="461.69" y1="774.30" x2="461.69" y2="776.80" stroke="#333" stroke-width="0.6" />
<rect x="419.00" y="791.80" width="122.06" height="5.10" fill="#c8621c" />
<circle cx="541.1" cy="794.3" r="1.5" fill="#c8621c"/>
<line x1="541.06" y1="794.35" x2="543.06" y2="794.35" stroke="#333" stroke-width="0.6" />
<line x1="543.06" y1="793.10" x2="543.06" y2="795.60" stroke="#333" stroke-width="0.6" />
<rect x="419.00" y="798.70" width="8.00" height="5.10" fill="#4a92e4" />
<circle cx="427.0" cy="801.2" r="1.5" fill="#4a92e4"/>
<line x1="427.00" y1="801.25" x2="430.34" y2="801.25" stroke="#333" stroke-width="0.6" />
<line x1="430.34" y1="800.00" x2="430.34" y2="802.50" stroke="#333" stroke-width="0.6" />
<rect x="419.00" y="804.60" width="6.67" height="5.10" fill="#96ea96" />
<circle cx="425.7" cy="807.1" r="1.5" fill="#96ea96"/>
<line x1="425.67" y1="807.15" x2="427.00" y2="807.15" stroke="#333" stroke-width="0.6" />
<line x1="427.00" y1="805.90" x2="427.00" y2="808.40" stroke="#333" stroke-width="0.6" />
<rect x="419.00" y="810.60" width="35.35" height="5.10" fill="#a2a2a2" />
<circle cx="454.4" cy="813.1" r="1.5" fill="#a2a2a2"/>
<line x1="454.35" y1="813.15" x2="461.02" y2="813.15" stroke="#333" stroke-width="0.6" />
<line x1="461.02" y1="811.90" x2="461.02" y2="814.40" stroke="#333" stroke-width="0.6" />
<rect x="513.80" y="746.30" width="6.50" height="4.80" fill="#a2a2a2" />
<text x="525.4" y="751.0" font-size="6.6" fill="#444" text-anchor="start" font-weight="normal" >C18:1</text>
<rect x="513.80" y="757.90" width="6.50" height="4.80" fill="#c8621c" />
<text x="525.4" y="762.6" font-size="6.6" fill="#444" text-anchor="start" font-weight="normal" >C20:5</text>
<rect x="513.80" y="769.90" width="6.50" height="4.80" fill="#96ea96" />
<text x="525.4" y="774.6" font-size="6.6" fill="#444" text-anchor="start" font-weight="normal" >C20:2</text>
<rect x="513.80" y="781.70" width="6.50" height="4.80" fill="#4a92e4" />
<text x="525.4" y="786.4" font-size="6.6" fill="#444" text-anchor="start" font-weight="normal" >C20:3</text>
</svg>
<div class="cap">海洋藻类<span style="letter-spacing:0.6px">LPCAT</span>在油脂合成中的功能及其提高<span style="letter-spacing:1.6px">EPA</span>含量的潜力</div>
</body></html>
